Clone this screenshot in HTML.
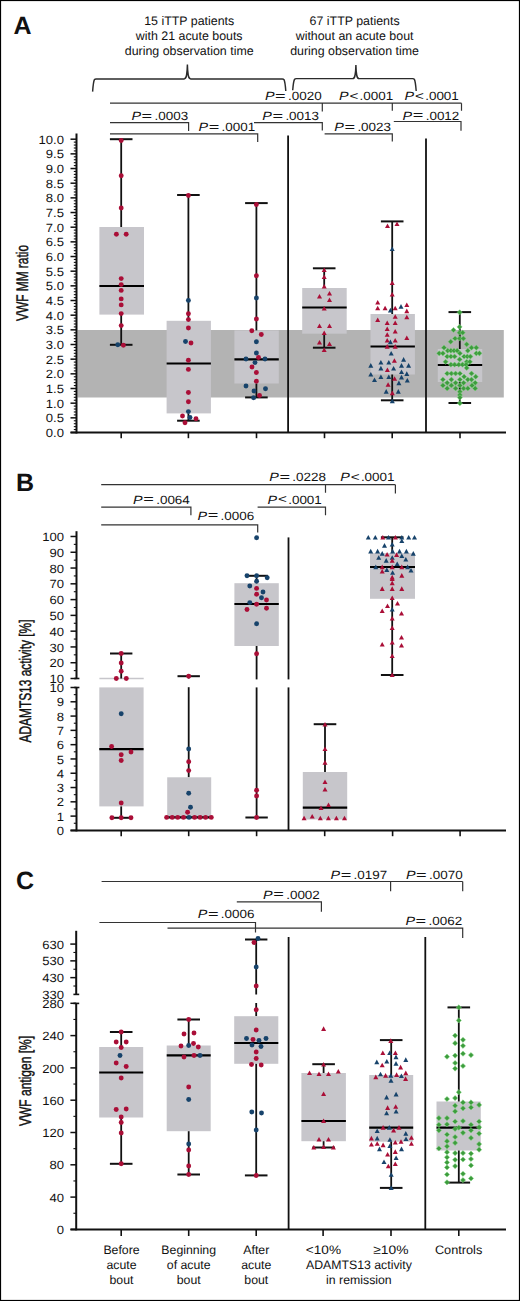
<!DOCTYPE html><html><head><meta charset="utf-8"><title>Figure</title><style>html,body{margin:0;padding:0;background:#fff}svg{display:block}text{font-family:"Liberation Sans",sans-serif;fill:#111;text-rendering:geometricPrecision}</style></head><body>
<svg width="520" height="1301" viewBox="0 0 520 1301">
<rect x="0" y="0" width="520" height="1301" fill="#fff"/>
<rect x="0.5" y="0.5" width="519" height="1300" fill="none" stroke="#000" stroke-width="1.2"/>
<text x="13.6" y="33.7" font-size="25" font-weight="bold">A</text>
<text x="15.9" y="490.5" font-size="25" font-weight="bold">B</text>
<text x="15.9" y="888.7" font-size="25" font-weight="bold">C</text>
<text x="189.2" y="24.6" font-size="12.4" text-anchor="middle" >15 iTTP patients</text>
<text x="189.2" y="39.6" font-size="12.4" text-anchor="middle" >with 21 acute bouts</text>
<text x="189.2" y="54.6" font-size="12.4" text-anchor="middle" >during observation time</text>
<text x="354.6" y="24.6" font-size="12.4" text-anchor="middle" >67 iTTP patients</text>
<text x="354.6" y="39.6" font-size="12.4" text-anchor="middle" >without an acute bout</text>
<text x="354.6" y="54.6" font-size="12.4" text-anchor="middle" >during observation time</text>
<path d="M92.6,91.6 C93.0,86.6 93.5,81.4 94.39999999999999,79.7 Q94.89999999999999,78.9 96.19999999999999,78.9 L184.1,78.9 C186.20000000000002,78.9 187.1,76.4 187.4,64.6 C187.70000000000002,76.4 188.6,78.9 190.70000000000002,78.9 L282.2,78.9 Q283.5,78.9 284.0,79.7 C284.90000000000003,81.4 285.40000000000003,86.0 285.8,91.0" fill="none" stroke="#2b2b2b" stroke-width="1.45"/>
<path d="M292.7,90.3 C293.09999999999997,85.3 293.59999999999997,81.1 294.5,79.39999999999999 Q295.0,78.6 296.3,78.6 L352.59999999999997,78.6 C354.7,78.6 355.59999999999997,76.1 355.9,64.9 C356.2,76.1 357.09999999999997,78.6 359.2,78.6 L412.59999999999997,78.6 Q413.9,78.6 414.4,79.39999999999999 C415.3,81.1 415.8,86.0 416.2,91.0" fill="none" stroke="#2b2b2b" stroke-width="1.45"/>
<path d="M110,103.2 H461.5 M322.3,103.2 V111.5 M392.3,103.2 V110.8 M461.5,103.2 V110.8" fill="none" stroke="#333" stroke-width="1.2"/>
<path d="M110,122.7 H188.6 V131" fill="none" stroke="#333" stroke-width="1.2"/>
<path d="M110,133.9 H257.7 V142" fill="none" stroke="#333" stroke-width="1.2"/>
<path d="M254,122.7 H322.3 V130.4" fill="none" stroke="#333" stroke-width="1.2"/>
<path d="M324.6,133.9 H392.3 V141.5" fill="none" stroke="#333" stroke-width="1.2"/>
<path d="M393.8,121.5 H461 V130.8" fill="none" stroke="#333" stroke-width="1.2"/>
<text x="264.90" y="100.0" font-size="12.0" font-style="italic" textLength="9.6" lengthAdjust="spacingAndGlyphs">P</text>
<text x="275.10" y="99.7" font-size="12.0" textLength="10.6" lengthAdjust="spacingAndGlyphs">=</text>
<text x="288.00" y="100.0" font-size="12.0" textLength="33.6" lengthAdjust="spacingAndGlyphs">.0020</text>
<text x="339.00" y="100.0" font-size="12.0" font-style="italic" textLength="9.6" lengthAdjust="spacingAndGlyphs">P</text>
<text x="349.50" y="99.7" font-size="12.0" textLength="8.9" lengthAdjust="spacingAndGlyphs">&lt;</text>
<text x="359.60" y="100.0" font-size="12.0" textLength="33.6" lengthAdjust="spacingAndGlyphs">.0001</text>
<text x="404.60" y="100.0" font-size="12.0" font-style="italic" textLength="9.6" lengthAdjust="spacingAndGlyphs">P</text>
<text x="415.10" y="99.7" font-size="12.0" textLength="8.9" lengthAdjust="spacingAndGlyphs">&lt;</text>
<text x="425.20" y="100.0" font-size="12.0" textLength="33.6" lengthAdjust="spacingAndGlyphs">.0001</text>
<text x="131.40" y="119.8" font-size="12.0" font-style="italic" textLength="9.6" lengthAdjust="spacingAndGlyphs">P</text>
<text x="141.60" y="119.5" font-size="12.0" textLength="10.6" lengthAdjust="spacingAndGlyphs">=</text>
<text x="154.50" y="119.8" font-size="12.0" textLength="33.6" lengthAdjust="spacingAndGlyphs">.0003</text>
<text x="198.50" y="131.1" font-size="12.0" font-style="italic" textLength="9.6" lengthAdjust="spacingAndGlyphs">P</text>
<text x="208.70" y="130.79999999999998" font-size="12.0" textLength="10.6" lengthAdjust="spacingAndGlyphs">=</text>
<text x="221.60" y="131.1" font-size="12.0" textLength="33.6" lengthAdjust="spacingAndGlyphs">.0001</text>
<text x="262.30" y="120.1" font-size="12.0" font-style="italic" textLength="9.6" lengthAdjust="spacingAndGlyphs">P</text>
<text x="272.50" y="119.8" font-size="12.0" textLength="10.6" lengthAdjust="spacingAndGlyphs">=</text>
<text x="285.40" y="120.1" font-size="12.0" textLength="33.6" lengthAdjust="spacingAndGlyphs">.0013</text>
<text x="334.30" y="131.1" font-size="12.0" font-style="italic" textLength="9.6" lengthAdjust="spacingAndGlyphs">P</text>
<text x="344.50" y="130.79999999999998" font-size="12.0" textLength="10.6" lengthAdjust="spacingAndGlyphs">=</text>
<text x="357.40" y="131.1" font-size="12.0" textLength="33.6" lengthAdjust="spacingAndGlyphs">.0023</text>
<text x="402.60" y="119.6" font-size="12.0" font-style="italic" textLength="9.6" lengthAdjust="spacingAndGlyphs">P</text>
<text x="412.80" y="119.3" font-size="12.0" textLength="10.6" lengthAdjust="spacingAndGlyphs">=</text>
<text x="425.70" y="119.6" font-size="12.0" textLength="33.6" lengthAdjust="spacingAndGlyphs">.0012</text>
<rect x="77.5" y="330" width="426.30" height="67.50" fill="#b3b3b3"/>
<rect x="99.4" y="227.0" width="44.60" height="87.60" fill="#c7c6cb"/>
<line x1="121.2" y1="139.2" x2="121.2" y2="227.0" stroke="#111" stroke-width="1.8"/>
<line x1="109.9" y1="139.2" x2="132.5" y2="139.2" stroke="#111" stroke-width="2"/>
<line x1="121.2" y1="314.6" x2="121.2" y2="344.8" stroke="#111" stroke-width="1.8"/>
<line x1="109.9" y1="344.8" x2="132.5" y2="344.8" stroke="#111" stroke-width="2"/>
<line x1="99.4" y1="286.0" x2="144.0" y2="286.0" stroke="#000" stroke-width="2.2"/>
<rect x="166.6" y="320.8" width="44.30" height="92.60" fill="#c7c6cb"/>
<line x1="188.4" y1="195.0" x2="188.4" y2="320.8" stroke="#111" stroke-width="1.8"/>
<line x1="177.1" y1="195.0" x2="199.70000000000002" y2="195.0" stroke="#111" stroke-width="2"/>
<line x1="188.4" y1="413.4" x2="188.4" y2="420.7" stroke="#111" stroke-width="1.8"/>
<line x1="177.1" y1="420.7" x2="199.70000000000002" y2="420.7" stroke="#111" stroke-width="2"/>
<line x1="166.6" y1="363.5" x2="210.9" y2="363.5" stroke="#000" stroke-width="2.2"/>
<rect x="234.4" y="330.4" width="44.40" height="53.10" fill="#c7c6cb"/>
<line x1="256.4" y1="203.1" x2="256.4" y2="330.4" stroke="#111" stroke-width="1.8"/>
<line x1="245.09999999999997" y1="203.1" x2="267.7" y2="203.1" stroke="#111" stroke-width="2"/>
<line x1="256.4" y1="383.5" x2="256.4" y2="397.4" stroke="#111" stroke-width="1.8"/>
<line x1="245.09999999999997" y1="397.4" x2="267.7" y2="397.4" stroke="#111" stroke-width="2"/>
<line x1="234.4" y1="359.3" x2="278.8" y2="359.3" stroke="#000" stroke-width="2.2"/>
<rect x="302.2" y="288.0" width="44.50" height="45.70" fill="#c7c6cb"/>
<line x1="324.2" y1="268.3" x2="324.2" y2="288.0" stroke="#111" stroke-width="1.8"/>
<line x1="312.9" y1="268.3" x2="335.5" y2="268.3" stroke="#111" stroke-width="2"/>
<line x1="324.2" y1="333.7" x2="324.2" y2="347.7" stroke="#111" stroke-width="1.8"/>
<line x1="312.9" y1="347.7" x2="335.5" y2="347.7" stroke="#111" stroke-width="2"/>
<line x1="302.2" y1="307.5" x2="346.7" y2="307.5" stroke="#000" stroke-width="2.2"/>
<rect x="370.5" y="314.0" width="44.40" height="60.50" fill="#c7c6cb"/>
<line x1="392.2" y1="221.4" x2="392.2" y2="314.0" stroke="#111" stroke-width="1.8"/>
<line x1="380.9" y1="221.4" x2="403.5" y2="221.4" stroke="#111" stroke-width="2"/>
<line x1="392.2" y1="374.5" x2="392.2" y2="400.3" stroke="#111" stroke-width="1.8"/>
<line x1="380.9" y1="400.3" x2="403.5" y2="400.3" stroke="#111" stroke-width="2"/>
<line x1="370.5" y1="346.5" x2="414.9" y2="346.5" stroke="#000" stroke-width="2.2"/>
<rect x="437.8" y="349.0" width="44.40" height="33.00" fill="#c7c6cb"/>
<line x1="459.8" y1="312.1" x2="459.8" y2="349.0" stroke="#111" stroke-width="1.8"/>
<line x1="448.5" y1="312.1" x2="471.1" y2="312.1" stroke="#111" stroke-width="2"/>
<line x1="459.8" y1="382.0" x2="459.8" y2="403.0" stroke="#111" stroke-width="1.8"/>
<line x1="448.5" y1="403.0" x2="471.1" y2="403.0" stroke="#111" stroke-width="2"/>
<line x1="437.8" y1="365.0" x2="482.2" y2="365.0" stroke="#000" stroke-width="2.2"/>
<line x1="76.5" y1="133.4" x2="76.5" y2="433.5" stroke="#111" stroke-width="2"/>
<line x1="70.5" y1="432.5" x2="506" y2="432.5" stroke="#111" stroke-width="2"/>
<line x1="70.5" y1="432.5" x2="76.5" y2="432.5" stroke="#111" stroke-width="1.5"/>
<line x1="73.8" y1="429.567" x2="76.5" y2="429.567" stroke="#111" stroke-width="1.1"/>
<line x1="73.8" y1="426.634" x2="76.5" y2="426.634" stroke="#111" stroke-width="1.1"/>
<line x1="73.8" y1="423.701" x2="76.5" y2="423.701" stroke="#111" stroke-width="1.1"/>
<line x1="73.8" y1="420.76800000000003" x2="76.5" y2="420.76800000000003" stroke="#111" stroke-width="1.1"/>
<line x1="70.5" y1="417.835" x2="76.5" y2="417.835" stroke="#111" stroke-width="1.5"/>
<line x1="73.8" y1="414.902" x2="76.5" y2="414.902" stroke="#111" stroke-width="1.1"/>
<line x1="73.8" y1="411.969" x2="76.5" y2="411.969" stroke="#111" stroke-width="1.1"/>
<line x1="73.8" y1="409.036" x2="76.5" y2="409.036" stroke="#111" stroke-width="1.1"/>
<line x1="73.8" y1="406.103" x2="76.5" y2="406.103" stroke="#111" stroke-width="1.1"/>
<line x1="70.5" y1="403.17" x2="76.5" y2="403.17" stroke="#111" stroke-width="1.5"/>
<line x1="73.8" y1="400.237" x2="76.5" y2="400.237" stroke="#111" stroke-width="1.1"/>
<line x1="73.8" y1="397.304" x2="76.5" y2="397.304" stroke="#111" stroke-width="1.1"/>
<line x1="73.8" y1="394.371" x2="76.5" y2="394.371" stroke="#111" stroke-width="1.1"/>
<line x1="73.8" y1="391.438" x2="76.5" y2="391.438" stroke="#111" stroke-width="1.1"/>
<line x1="70.5" y1="388.505" x2="76.5" y2="388.505" stroke="#111" stroke-width="1.5"/>
<line x1="73.8" y1="385.572" x2="76.5" y2="385.572" stroke="#111" stroke-width="1.1"/>
<line x1="73.8" y1="382.639" x2="76.5" y2="382.639" stroke="#111" stroke-width="1.1"/>
<line x1="73.8" y1="379.706" x2="76.5" y2="379.706" stroke="#111" stroke-width="1.1"/>
<line x1="73.8" y1="376.773" x2="76.5" y2="376.773" stroke="#111" stroke-width="1.1"/>
<line x1="70.5" y1="373.84000000000003" x2="76.5" y2="373.84000000000003" stroke="#111" stroke-width="1.5"/>
<line x1="73.8" y1="370.907" x2="76.5" y2="370.907" stroke="#111" stroke-width="1.1"/>
<line x1="73.8" y1="367.974" x2="76.5" y2="367.974" stroke="#111" stroke-width="1.1"/>
<line x1="73.8" y1="365.041" x2="76.5" y2="365.041" stroke="#111" stroke-width="1.1"/>
<line x1="73.8" y1="362.108" x2="76.5" y2="362.108" stroke="#111" stroke-width="1.1"/>
<line x1="70.5" y1="359.175" x2="76.5" y2="359.175" stroke="#111" stroke-width="1.5"/>
<line x1="73.8" y1="356.242" x2="76.5" y2="356.242" stroke="#111" stroke-width="1.1"/>
<line x1="73.8" y1="353.30899999999997" x2="76.5" y2="353.30899999999997" stroke="#111" stroke-width="1.1"/>
<line x1="73.8" y1="350.376" x2="76.5" y2="350.376" stroke="#111" stroke-width="1.1"/>
<line x1="73.8" y1="347.443" x2="76.5" y2="347.443" stroke="#111" stroke-width="1.1"/>
<line x1="70.5" y1="344.51" x2="76.5" y2="344.51" stroke="#111" stroke-width="1.5"/>
<line x1="73.8" y1="341.577" x2="76.5" y2="341.577" stroke="#111" stroke-width="1.1"/>
<line x1="73.8" y1="338.644" x2="76.5" y2="338.644" stroke="#111" stroke-width="1.1"/>
<line x1="73.8" y1="335.711" x2="76.5" y2="335.711" stroke="#111" stroke-width="1.1"/>
<line x1="73.8" y1="332.778" x2="76.5" y2="332.778" stroke="#111" stroke-width="1.1"/>
<line x1="70.5" y1="329.845" x2="76.5" y2="329.845" stroke="#111" stroke-width="1.5"/>
<line x1="73.8" y1="326.91200000000003" x2="76.5" y2="326.91200000000003" stroke="#111" stroke-width="1.1"/>
<line x1="73.8" y1="323.979" x2="76.5" y2="323.979" stroke="#111" stroke-width="1.1"/>
<line x1="73.8" y1="321.046" x2="76.5" y2="321.046" stroke="#111" stroke-width="1.1"/>
<line x1="73.8" y1="318.113" x2="76.5" y2="318.113" stroke="#111" stroke-width="1.1"/>
<line x1="70.5" y1="315.18" x2="76.5" y2="315.18" stroke="#111" stroke-width="1.5"/>
<line x1="73.8" y1="312.247" x2="76.5" y2="312.247" stroke="#111" stroke-width="1.1"/>
<line x1="73.8" y1="309.314" x2="76.5" y2="309.314" stroke="#111" stroke-width="1.1"/>
<line x1="73.8" y1="306.38100000000003" x2="76.5" y2="306.38100000000003" stroke="#111" stroke-width="1.1"/>
<line x1="73.8" y1="303.448" x2="76.5" y2="303.448" stroke="#111" stroke-width="1.1"/>
<line x1="70.5" y1="300.515" x2="76.5" y2="300.515" stroke="#111" stroke-width="1.5"/>
<line x1="73.8" y1="297.582" x2="76.5" y2="297.582" stroke="#111" stroke-width="1.1"/>
<line x1="73.8" y1="294.649" x2="76.5" y2="294.649" stroke="#111" stroke-width="1.1"/>
<line x1="73.8" y1="291.716" x2="76.5" y2="291.716" stroke="#111" stroke-width="1.1"/>
<line x1="73.8" y1="288.783" x2="76.5" y2="288.783" stroke="#111" stroke-width="1.1"/>
<line x1="70.5" y1="285.85" x2="76.5" y2="285.85" stroke="#111" stroke-width="1.5"/>
<line x1="73.8" y1="282.91700000000003" x2="76.5" y2="282.91700000000003" stroke="#111" stroke-width="1.1"/>
<line x1="73.8" y1="279.98400000000004" x2="76.5" y2="279.98400000000004" stroke="#111" stroke-width="1.1"/>
<line x1="73.8" y1="277.05100000000004" x2="76.5" y2="277.05100000000004" stroke="#111" stroke-width="1.1"/>
<line x1="73.8" y1="274.118" x2="76.5" y2="274.118" stroke="#111" stroke-width="1.1"/>
<line x1="70.5" y1="271.185" x2="76.5" y2="271.185" stroke="#111" stroke-width="1.5"/>
<line x1="73.8" y1="268.252" x2="76.5" y2="268.252" stroke="#111" stroke-width="1.1"/>
<line x1="73.8" y1="265.319" x2="76.5" y2="265.319" stroke="#111" stroke-width="1.1"/>
<line x1="73.8" y1="262.386" x2="76.5" y2="262.386" stroke="#111" stroke-width="1.1"/>
<line x1="73.8" y1="259.453" x2="76.5" y2="259.453" stroke="#111" stroke-width="1.1"/>
<line x1="70.5" y1="256.52" x2="76.5" y2="256.52" stroke="#111" stroke-width="1.5"/>
<line x1="73.8" y1="253.58700000000002" x2="76.5" y2="253.58700000000002" stroke="#111" stroke-width="1.1"/>
<line x1="73.8" y1="250.654" x2="76.5" y2="250.654" stroke="#111" stroke-width="1.1"/>
<line x1="73.8" y1="247.721" x2="76.5" y2="247.721" stroke="#111" stroke-width="1.1"/>
<line x1="73.8" y1="244.788" x2="76.5" y2="244.788" stroke="#111" stroke-width="1.1"/>
<line x1="70.5" y1="241.85500000000002" x2="76.5" y2="241.85500000000002" stroke="#111" stroke-width="1.5"/>
<line x1="73.8" y1="238.92200000000003" x2="76.5" y2="238.92200000000003" stroke="#111" stroke-width="1.1"/>
<line x1="73.8" y1="235.989" x2="76.5" y2="235.989" stroke="#111" stroke-width="1.1"/>
<line x1="73.8" y1="233.056" x2="76.5" y2="233.056" stroke="#111" stroke-width="1.1"/>
<line x1="73.8" y1="230.123" x2="76.5" y2="230.123" stroke="#111" stroke-width="1.1"/>
<line x1="70.5" y1="227.19" x2="76.5" y2="227.19" stroke="#111" stroke-width="1.5"/>
<line x1="73.8" y1="224.25700000000003" x2="76.5" y2="224.25700000000003" stroke="#111" stroke-width="1.1"/>
<line x1="73.8" y1="221.324" x2="76.5" y2="221.324" stroke="#111" stroke-width="1.1"/>
<line x1="73.8" y1="218.39100000000002" x2="76.5" y2="218.39100000000002" stroke="#111" stroke-width="1.1"/>
<line x1="73.8" y1="215.458" x2="76.5" y2="215.458" stroke="#111" stroke-width="1.1"/>
<line x1="70.5" y1="212.525" x2="76.5" y2="212.525" stroke="#111" stroke-width="1.5"/>
<line x1="73.8" y1="209.592" x2="76.5" y2="209.592" stroke="#111" stroke-width="1.1"/>
<line x1="73.8" y1="206.65900000000002" x2="76.5" y2="206.65900000000002" stroke="#111" stroke-width="1.1"/>
<line x1="73.8" y1="203.72600000000003" x2="76.5" y2="203.72600000000003" stroke="#111" stroke-width="1.1"/>
<line x1="73.8" y1="200.793" x2="76.5" y2="200.793" stroke="#111" stroke-width="1.1"/>
<line x1="70.5" y1="197.86" x2="76.5" y2="197.86" stroke="#111" stroke-width="1.5"/>
<line x1="73.8" y1="194.92700000000002" x2="76.5" y2="194.92700000000002" stroke="#111" stroke-width="1.1"/>
<line x1="73.8" y1="191.99400000000003" x2="76.5" y2="191.99400000000003" stroke="#111" stroke-width="1.1"/>
<line x1="73.8" y1="189.061" x2="76.5" y2="189.061" stroke="#111" stroke-width="1.1"/>
<line x1="73.8" y1="186.12800000000001" x2="76.5" y2="186.12800000000001" stroke="#111" stroke-width="1.1"/>
<line x1="70.5" y1="183.19500000000002" x2="76.5" y2="183.19500000000002" stroke="#111" stroke-width="1.5"/>
<line x1="73.8" y1="180.26200000000003" x2="76.5" y2="180.26200000000003" stroke="#111" stroke-width="1.1"/>
<line x1="73.8" y1="177.32900000000004" x2="76.5" y2="177.32900000000004" stroke="#111" stroke-width="1.1"/>
<line x1="73.8" y1="174.39600000000002" x2="76.5" y2="174.39600000000002" stroke="#111" stroke-width="1.1"/>
<line x1="73.8" y1="171.46300000000002" x2="76.5" y2="171.46300000000002" stroke="#111" stroke-width="1.1"/>
<line x1="70.5" y1="168.53000000000003" x2="76.5" y2="168.53000000000003" stroke="#111" stroke-width="1.5"/>
<line x1="73.8" y1="165.59700000000004" x2="76.5" y2="165.59700000000004" stroke="#111" stroke-width="1.1"/>
<line x1="73.8" y1="162.66400000000004" x2="76.5" y2="162.66400000000004" stroke="#111" stroke-width="1.1"/>
<line x1="73.8" y1="159.731" x2="76.5" y2="159.731" stroke="#111" stroke-width="1.1"/>
<line x1="73.8" y1="156.798" x2="76.5" y2="156.798" stroke="#111" stroke-width="1.1"/>
<line x1="70.5" y1="153.865" x2="76.5" y2="153.865" stroke="#111" stroke-width="1.5"/>
<line x1="73.8" y1="150.93200000000002" x2="76.5" y2="150.93200000000002" stroke="#111" stroke-width="1.1"/>
<line x1="73.8" y1="147.99900000000002" x2="76.5" y2="147.99900000000002" stroke="#111" stroke-width="1.1"/>
<line x1="73.8" y1="145.06599999999997" x2="76.5" y2="145.06599999999997" stroke="#111" stroke-width="1.1"/>
<line x1="73.8" y1="142.13299999999998" x2="76.5" y2="142.13299999999998" stroke="#111" stroke-width="1.1"/>
<line x1="70.5" y1="139.20000000000005" x2="76.5" y2="139.20000000000005" stroke="#111" stroke-width="1.5"/>
<text transform="translate(64.0,437.10) scale(1.09,1)" font-size="12.0" text-anchor="end">0.0</text>
<text transform="translate(64.0,422.44) scale(1.09,1)" font-size="12.0" text-anchor="end">0.5</text>
<text transform="translate(64.0,407.77) scale(1.09,1)" font-size="12.0" text-anchor="end">1.0</text>
<text transform="translate(64.0,393.11) scale(1.09,1)" font-size="12.0" text-anchor="end">1.5</text>
<text transform="translate(64.0,378.44) scale(1.09,1)" font-size="12.0" text-anchor="end">2.0</text>
<text transform="translate(64.0,363.78) scale(1.09,1)" font-size="12.0" text-anchor="end">2.5</text>
<text transform="translate(64.0,349.11) scale(1.09,1)" font-size="12.0" text-anchor="end">3.0</text>
<text transform="translate(64.0,334.45) scale(1.09,1)" font-size="12.0" text-anchor="end">3.5</text>
<text transform="translate(64.0,319.78) scale(1.09,1)" font-size="12.0" text-anchor="end">4.0</text>
<text transform="translate(64.0,305.12) scale(1.09,1)" font-size="12.0" text-anchor="end">4.5</text>
<text transform="translate(64.0,290.45) scale(1.09,1)" font-size="12.0" text-anchor="end">5.0</text>
<text transform="translate(64.0,275.79) scale(1.09,1)" font-size="12.0" text-anchor="end">5.5</text>
<text transform="translate(64.0,261.12) scale(1.09,1)" font-size="12.0" text-anchor="end">6.0</text>
<text transform="translate(64.0,246.46) scale(1.09,1)" font-size="12.0" text-anchor="end">6.5</text>
<text transform="translate(64.0,231.79) scale(1.09,1)" font-size="12.0" text-anchor="end">7.0</text>
<text transform="translate(64.0,217.12) scale(1.09,1)" font-size="12.0" text-anchor="end">7.5</text>
<text transform="translate(64.0,202.46) scale(1.09,1)" font-size="12.0" text-anchor="end">8.0</text>
<text transform="translate(64.0,187.80) scale(1.09,1)" font-size="12.0" text-anchor="end">8.5</text>
<text transform="translate(64.0,173.13) scale(1.09,1)" font-size="12.0" text-anchor="end">9.0</text>
<text transform="translate(64.0,158.47) scale(1.09,1)" font-size="12.0" text-anchor="end">9.5</text>
<text transform="translate(64.0,143.80) scale(1.09,1)" font-size="12.0" text-anchor="end">10.0</text>
<line x1="121.2" y1="432.5" x2="121.2" y2="438.2" stroke="#111" stroke-width="1.6"/>
<line x1="188.4" y1="432.5" x2="188.4" y2="438.2" stroke="#111" stroke-width="1.6"/>
<line x1="256.5" y1="432.5" x2="256.5" y2="438.2" stroke="#111" stroke-width="1.6"/>
<line x1="324.5" y1="432.5" x2="324.5" y2="438.2" stroke="#111" stroke-width="1.6"/>
<line x1="392.2" y1="432.5" x2="392.2" y2="438.2" stroke="#111" stroke-width="1.6"/>
<line x1="460.0" y1="432.5" x2="460.0" y2="438.2" stroke="#111" stroke-width="1.6"/>
<line x1="288.1" y1="135.5" x2="288.1" y2="432.5" stroke="#111" stroke-width="1.8"/>
<line x1="426.0" y1="138.5" x2="426.0" y2="432.5" stroke="#111" stroke-width="1.8"/>
<text transform="translate(27.9,283.0) rotate(-90)" x="-38.00" y="0" font-size="16.8" stroke="#111" stroke-width="0.45" textLength="76.0" lengthAdjust="spacingAndGlyphs">VWF MM ratio</text>
<circle cx="121.2" cy="140.5" r="2.45" fill="#aa0e37"/>
<circle cx="121.2" cy="175.8" r="2.45" fill="#aa0e37"/>
<circle cx="121.2" cy="208" r="2.45" fill="#aa0e37"/>
<circle cx="116.4" cy="234.3" r="2.45" fill="#aa0e37"/>
<circle cx="126.2" cy="234.3" r="2.45" fill="#aa0e37"/>
<circle cx="121.2" cy="278.6" r="2.45" fill="#aa0e37"/>
<circle cx="121.2" cy="284.6" r="2.45" fill="#aa0e37"/>
<circle cx="121.2" cy="290.4" r="2.45" fill="#aa0e37"/>
<circle cx="121.2" cy="298.9" r="2.45" fill="#aa0e37"/>
<circle cx="121.2" cy="304.9" r="2.45" fill="#aa0e37"/>
<circle cx="121.2" cy="313.6" r="2.45" fill="#aa0e37"/>
<circle cx="121.2" cy="325.6" r="2.45" fill="#aa0e37"/>
<circle cx="123.4" cy="345.3" r="2.45" fill="#aa0e37"/>
<circle cx="117.8" cy="344.8" r="2.45" fill="#17436b"/>
<circle cx="188.4" cy="195.5" r="2.45" fill="#aa0e37"/>
<circle cx="188.4" cy="300.4" r="2.45" fill="#17436b"/>
<circle cx="188.4" cy="313.8" r="2.45" fill="#aa0e37"/>
<circle cx="188.4" cy="319.6" r="2.45" fill="#aa0e37"/>
<circle cx="188.4" cy="328" r="2.45" fill="#aa0e37"/>
<circle cx="185.5" cy="341.5" r="2.45" fill="#17436b"/>
<circle cx="191" cy="343" r="2.45" fill="#aa0e37"/>
<circle cx="188.4" cy="360.2" r="2.45" fill="#aa0e37"/>
<circle cx="188.4" cy="369.4" r="2.45" fill="#aa0e37"/>
<circle cx="188.4" cy="392.5" r="2.45" fill="#aa0e37"/>
<circle cx="188.4" cy="401.8" r="2.45" fill="#aa0e37"/>
<circle cx="188.4" cy="411.6" r="2.45" fill="#17436b"/>
<circle cx="182.5" cy="416" r="2.45" fill="#aa0e37"/>
<circle cx="190" cy="417.5" r="2.45" fill="#17436b"/>
<circle cx="196" cy="418.7" r="2.45" fill="#aa0e37"/>
<circle cx="185" cy="422.8" r="2.45" fill="#aa0e37"/>
<circle cx="256.4" cy="204.5" r="2.45" fill="#aa0e37"/>
<circle cx="256.4" cy="275.8" r="2.45" fill="#aa0e37"/>
<circle cx="256.4" cy="298" r="2.45" fill="#17436b"/>
<circle cx="256.4" cy="319" r="2.45" fill="#aa0e37"/>
<circle cx="251.8" cy="330.8" r="2.45" fill="#aa0e37"/>
<circle cx="261.3" cy="334.5" r="2.45" fill="#aa0e37"/>
<circle cx="256.4" cy="341.8" r="2.45" fill="#17436b"/>
<circle cx="256.4" cy="353" r="2.45" fill="#17436b"/>
<circle cx="246" cy="359" r="2.45" fill="#17436b"/>
<circle cx="258.5" cy="357.5" r="2.45" fill="#aa0e37"/>
<circle cx="265" cy="359" r="2.45" fill="#17436b"/>
<circle cx="255" cy="362.6" r="2.45" fill="#17436b"/>
<circle cx="252" cy="367" r="2.45" fill="#aa0e37"/>
<circle cx="256.4" cy="372.5" r="2.45" fill="#aa0e37"/>
<circle cx="256.4" cy="381.2" r="2.45" fill="#aa0e37"/>
<circle cx="246" cy="386" r="2.45" fill="#17436b"/>
<circle cx="265.5" cy="388.8" r="2.45" fill="#17436b"/>
<circle cx="254" cy="391" r="2.45" fill="#17436b"/>
<circle cx="259.5" cy="395.5" r="2.45" fill="#aa0e37"/>
<circle cx="253.6" cy="397.7" r="2.45" fill="#17436b"/>
<path d="M324.20,267.50L326.70,272.12L321.70,272.12Z" fill="#aa0e37"/>
<path d="M324.20,274.50L326.70,279.12L321.70,279.12Z" fill="#aa0e37"/>
<path d="M324.20,284.00L326.70,288.62L321.70,288.62Z" fill="#aa0e37"/>
<path d="M319.50,294.00L322.00,298.62L317.00,298.62Z" fill="#aa0e37"/>
<path d="M329.50,291.00L332.00,295.62L327.00,295.62Z" fill="#aa0e37"/>
<path d="M329.50,297.50L332.00,302.12L327.00,302.12Z" fill="#aa0e37"/>
<path d="M324.20,306.00L326.70,310.62L321.70,310.62Z" fill="#aa0e37"/>
<path d="M319.50,323.50L322.00,328.12L317.00,328.12Z" fill="#aa0e37"/>
<path d="M329.50,323.50L332.00,328.12L327.00,328.12Z" fill="#aa0e37"/>
<path d="M324.20,330.50L326.70,335.12L321.70,335.12Z" fill="#aa0e37"/>
<path d="M319.50,340.00L322.00,344.62L317.00,344.62Z" fill="#aa0e37"/>
<path d="M329.50,341.50L332.00,346.12L327.00,346.12Z" fill="#aa0e37"/>
<path d="M324.20,347.50L326.70,352.12L321.70,352.12Z" fill="#aa0e37"/>
<path d="M387.50,223.50L390.00,228.12L385.00,228.12Z" fill="#aa0e37"/>
<path d="M397.00,221.50L399.50,226.12L394.50,226.12Z" fill="#aa0e37"/>
<path d="M392.20,246.50L394.70,251.12L389.70,251.12Z" fill="#17436b"/>
<path d="M392.20,280.50L394.70,285.12L389.70,285.12Z" fill="#aa0e37"/>
<path d="M392.20,292.00L394.70,296.62L389.70,296.62Z" fill="#aa0e37"/>
<path d="M377.70,299.90L380.20,304.52L375.20,304.52Z" fill="#aa0e37"/>
<path d="M377.70,305.70L380.20,310.32L375.20,310.32Z" fill="#aa0e37"/>
<path d="M385.10,305.70L387.60,310.32L382.60,310.32Z" fill="#aa0e37"/>
<path d="M390.40,307.80L392.90,312.43L387.90,312.43Z" fill="#17436b"/>
<path d="M395.20,305.70L397.70,310.32L392.70,310.32Z" fill="#aa0e37"/>
<path d="M401.00,304.10L403.50,308.73L398.50,308.73Z" fill="#17436b"/>
<path d="M406.80,302.50L409.30,307.12L404.30,307.12Z" fill="#aa0e37"/>
<path d="M406.80,308.60L409.30,313.23L404.30,313.23Z" fill="#aa0e37"/>
<path d="M406.80,314.70L409.30,319.32L404.30,319.32Z" fill="#aa0e37"/>
<path d="M395.20,314.20L397.70,318.82L392.70,318.82Z" fill="#aa0e37"/>
<path d="M377.70,317.40L380.20,322.02L375.20,322.02Z" fill="#aa0e37"/>
<path d="M387.20,320.50L389.70,325.12L384.70,325.12Z" fill="#aa0e37"/>
<path d="M395.20,320.50L397.70,325.12L392.70,325.12Z" fill="#aa0e37"/>
<path d="M387.20,326.40L389.70,331.02L384.70,331.02Z" fill="#aa0e37"/>
<path d="M395.20,329.00L397.70,333.62L392.70,333.62Z" fill="#aa0e37"/>
<path d="M387.20,332.20L389.70,336.82L384.70,336.82Z" fill="#aa0e37"/>
<path d="M406.80,335.40L409.30,340.02L404.30,340.02Z" fill="#aa0e37"/>
<path d="M387.20,338.00L389.70,342.62L384.70,342.62Z" fill="#aa0e37"/>
<path d="M390.40,339.60L392.90,344.23L387.90,344.23Z" fill="#17436b"/>
<path d="M395.20,338.00L397.70,342.62L392.70,342.62Z" fill="#aa0e37"/>
<path d="M387.20,344.10L389.70,348.73L384.70,348.73Z" fill="#aa0e37"/>
<path d="M395.20,344.10L397.70,348.73L392.70,348.73Z" fill="#aa0e37"/>
<path d="M391.20,351.00L393.70,355.62L388.70,355.62Z" fill="#17436b"/>
<path d="M394.40,358.20L396.90,362.82L391.90,362.82Z" fill="#aa0e37"/>
<path d="M403.60,357.10L406.10,361.73L401.10,361.73Z" fill="#17436b"/>
<path d="M380.90,360.00L383.40,364.62L378.40,364.62Z" fill="#17436b"/>
<path d="M388.80,360.00L391.30,364.62L386.30,364.62Z" fill="#17436b"/>
<path d="M370.80,363.10L373.30,367.73L368.30,367.73Z" fill="#17436b"/>
<path d="M401.50,363.10L404.00,367.73L399.00,367.73Z" fill="#17436b"/>
<path d="M408.60,363.10L411.10,367.73L406.10,367.73Z" fill="#17436b"/>
<path d="M380.90,365.80L383.40,370.43L378.40,370.43Z" fill="#17436b"/>
<path d="M387.40,367.40L389.90,372.02L384.90,372.02Z" fill="#aa0e37"/>
<path d="M393.60,366.00L396.10,370.62L391.10,370.62Z" fill="#17436b"/>
<path d="M370.80,371.90L373.30,376.52L368.30,376.52Z" fill="#17436b"/>
<path d="M401.50,369.50L404.00,374.12L399.00,374.12Z" fill="#17436b"/>
<path d="M406.80,371.30L409.30,375.93L404.30,375.93Z" fill="#17436b"/>
<path d="M380.90,374.50L383.40,379.12L378.40,379.12Z" fill="#17436b"/>
<path d="M388.80,374.50L391.30,379.12L386.30,379.12Z" fill="#17436b"/>
<path d="M394.60,376.20L397.10,380.82L392.10,380.82Z" fill="#aa0e37"/>
<path d="M401.50,374.80L404.00,379.43L399.00,379.43Z" fill="#17436b"/>
<path d="M374.50,377.40L377.00,382.02L372.00,382.02Z" fill="#17436b"/>
<path d="M407.30,377.90L409.80,382.52L404.80,382.52Z" fill="#17436b"/>
<path d="M388.10,382.20L390.60,386.82L385.60,386.82Z" fill="#aa0e37"/>
<path d="M398.90,380.60L401.40,385.23L396.40,385.23Z" fill="#17436b"/>
<path d="M386.20,389.10L388.70,393.73L383.70,393.73Z" fill="#17436b"/>
<path d="M392.30,390.60L394.80,395.23L389.80,395.23Z" fill="#aa0e37"/>
<path d="M398.30,389.10L400.80,393.73L395.80,393.73Z" fill="#17436b"/>
<path d="M392.30,398.60L394.80,403.23L389.80,403.23Z" fill="#17436b"/>
<path d="M459.70,309.70L462.30,312.30L459.70,314.90L457.10,312.30Z" fill="#3d9c3d" stroke="#7fd67f" stroke-width="0.5"/>
<path d="M459.60,324.30L462.20,326.90L459.60,329.50L457.00,326.90Z" fill="#3d9c3d" stroke="#7fd67f" stroke-width="0.5"/>
<path d="M453.50,327.40L456.10,330.00L453.50,332.60L450.90,330.00Z" fill="#3d9c3d" stroke="#7fd67f" stroke-width="0.5"/>
<path d="M459.60,330.10L462.20,332.70L459.60,335.30L457.00,332.70Z" fill="#3d9c3d" stroke="#7fd67f" stroke-width="0.5"/>
<path d="M462.70,330.10L465.30,332.70L462.70,335.30L460.10,332.70Z" fill="#3d9c3d" stroke="#7fd67f" stroke-width="0.5"/>
<path d="M455.10,335.90L457.70,338.50L455.10,341.10L452.50,338.50Z" fill="#3d9c3d" stroke="#7fd67f" stroke-width="0.5"/>
<path d="M459.60,335.90L462.20,338.50L459.60,341.10L457.00,338.50Z" fill="#3d9c3d" stroke="#7fd67f" stroke-width="0.5"/>
<path d="M463.40,335.90L466.00,338.50L463.40,341.10L460.80,338.50Z" fill="#3d9c3d" stroke="#7fd67f" stroke-width="0.5"/>
<path d="M450.70,339.10L453.30,341.70L450.70,344.30L448.10,341.70Z" fill="#3d9c3d" stroke="#7fd67f" stroke-width="0.5"/>
<path d="M466.70,341.70L469.30,344.30L466.70,346.90L464.10,344.30Z" fill="#3d9c3d" stroke="#7fd67f" stroke-width="0.5"/>
<path d="M444.00,345.10L446.60,347.70L444.00,350.30L441.40,347.70Z" fill="#3d9c3d" stroke="#7fd67f" stroke-width="0.5"/>
<path d="M471.50,345.10L474.10,347.70L471.50,350.30L468.90,347.70Z" fill="#3d9c3d" stroke="#7fd67f" stroke-width="0.5"/>
<path d="M476.30,345.10L478.90,347.70L476.30,350.30L473.70,347.70Z" fill="#3d9c3d" stroke="#7fd67f" stroke-width="0.5"/>
<path d="M447.70,348.10L450.30,350.70L447.70,353.30L445.10,350.70Z" fill="#3d9c3d" stroke="#7fd67f" stroke-width="0.5"/>
<path d="M450.90,348.10L453.50,350.70L450.90,353.30L448.30,350.70Z" fill="#3d9c3d" stroke="#7fd67f" stroke-width="0.5"/>
<path d="M454.00,348.10L456.60,350.70L454.00,353.30L451.40,350.70Z" fill="#3d9c3d" stroke="#7fd67f" stroke-width="0.5"/>
<path d="M457.20,348.10L459.80,350.70L457.20,353.30L454.60,350.70Z" fill="#3d9c3d" stroke="#7fd67f" stroke-width="0.5"/>
<path d="M467.80,348.10L470.40,350.70L467.80,353.30L465.20,350.70Z" fill="#3d9c3d" stroke="#7fd67f" stroke-width="0.5"/>
<path d="M439.20,350.70L441.80,353.30L439.20,355.90L436.60,353.30Z" fill="#3d9c3d" stroke="#7fd67f" stroke-width="0.5"/>
<path d="M442.90,350.70L445.50,353.30L442.90,355.90L440.30,353.30Z" fill="#3d9c3d" stroke="#7fd67f" stroke-width="0.5"/>
<path d="M459.90,350.70L462.50,353.30L459.90,355.90L457.30,353.30Z" fill="#3d9c3d" stroke="#7fd67f" stroke-width="0.5"/>
<path d="M476.30,350.70L478.90,353.30L476.30,355.90L473.70,353.30Z" fill="#3d9c3d" stroke="#7fd67f" stroke-width="0.5"/>
<path d="M479.40,350.70L482.00,353.30L479.40,355.90L476.80,353.30Z" fill="#3d9c3d" stroke="#7fd67f" stroke-width="0.5"/>
<path d="M447.20,353.90L449.80,356.50L447.20,359.10L444.60,356.50Z" fill="#3d9c3d" stroke="#7fd67f" stroke-width="0.5"/>
<path d="M450.90,353.90L453.50,356.50L450.90,359.10L448.30,356.50Z" fill="#3d9c3d" stroke="#7fd67f" stroke-width="0.5"/>
<path d="M454.60,353.90L457.20,356.50L454.60,359.10L452.00,356.50Z" fill="#3d9c3d" stroke="#7fd67f" stroke-width="0.5"/>
<path d="M464.10,353.90L466.70,356.50L464.10,359.10L461.50,356.50Z" fill="#3d9c3d" stroke="#7fd67f" stroke-width="0.5"/>
<path d="M467.30,353.90L469.90,356.50L467.30,359.10L464.70,356.50Z" fill="#3d9c3d" stroke="#7fd67f" stroke-width="0.5"/>
<path d="M470.40,353.90L473.00,356.50L470.40,359.10L467.80,356.50Z" fill="#3d9c3d" stroke="#7fd67f" stroke-width="0.5"/>
<path d="M459.60,356.80L462.20,359.40L459.60,362.00L457.00,359.40Z" fill="#3d9c3d" stroke="#7fd67f" stroke-width="0.5"/>
<path d="M445.60,359.20L448.20,361.80L445.60,364.40L443.00,361.80Z" fill="#3d9c3d" stroke="#7fd67f" stroke-width="0.5"/>
<path d="M466.70,359.20L469.30,361.80L466.70,364.40L464.10,361.80Z" fill="#3d9c3d" stroke="#7fd67f" stroke-width="0.5"/>
<path d="M469.90,359.20L472.50,361.80L469.90,364.40L467.30,361.80Z" fill="#3d9c3d" stroke="#7fd67f" stroke-width="0.5"/>
<path d="M450.90,362.00L453.50,364.60L450.90,367.20L448.30,364.60Z" fill="#3d9c3d" stroke="#7fd67f" stroke-width="0.5"/>
<path d="M454.60,362.00L457.20,364.60L454.60,367.20L452.00,364.60Z" fill="#3d9c3d" stroke="#7fd67f" stroke-width="0.5"/>
<path d="M458.80,362.00L461.40,364.60L458.80,367.20L456.20,364.60Z" fill="#3d9c3d" stroke="#7fd67f" stroke-width="0.5"/>
<path d="M462.50,362.00L465.10,364.60L462.50,367.20L459.90,364.60Z" fill="#3d9c3d" stroke="#7fd67f" stroke-width="0.5"/>
<path d="M466.20,362.00L468.80,364.60L466.20,367.20L463.60,364.60Z" fill="#3d9c3d" stroke="#7fd67f" stroke-width="0.5"/>
<path d="M466.70,365.30L469.30,367.90L466.70,370.50L464.10,367.90Z" fill="#3d9c3d" stroke="#7fd67f" stroke-width="0.5"/>
<path d="M447.20,370.90L449.80,373.50L447.20,376.10L444.60,373.50Z" fill="#3d9c3d" stroke="#7fd67f" stroke-width="0.5"/>
<path d="M451.40,370.90L454.00,373.50L451.40,376.10L448.80,373.50Z" fill="#3d9c3d" stroke="#7fd67f" stroke-width="0.5"/>
<path d="M455.60,370.90L458.20,373.50L455.60,376.10L453.00,373.50Z" fill="#3d9c3d" stroke="#7fd67f" stroke-width="0.5"/>
<path d="M459.90,370.90L462.50,373.50L459.90,376.10L457.30,373.50Z" fill="#3d9c3d" stroke="#7fd67f" stroke-width="0.5"/>
<path d="M471.50,370.90L474.10,373.50L471.50,376.10L468.90,373.50Z" fill="#3d9c3d" stroke="#7fd67f" stroke-width="0.5"/>
<path d="M464.10,374.10L466.70,376.70L464.10,379.30L461.50,376.70Z" fill="#3d9c3d" stroke="#7fd67f" stroke-width="0.5"/>
<path d="M475.70,374.10L478.30,376.70L475.70,379.30L473.10,376.70Z" fill="#3d9c3d" stroke="#7fd67f" stroke-width="0.5"/>
<path d="M442.90,377.00L445.50,379.60L442.90,382.20L440.30,379.60Z" fill="#3d9c3d" stroke="#7fd67f" stroke-width="0.5"/>
<path d="M451.40,377.00L454.00,379.60L451.40,382.20L448.80,379.60Z" fill="#3d9c3d" stroke="#7fd67f" stroke-width="0.5"/>
<path d="M459.90,377.00L462.50,379.60L459.90,382.20L457.30,379.60Z" fill="#3d9c3d" stroke="#7fd67f" stroke-width="0.5"/>
<path d="M467.80,377.00L470.40,379.60L467.80,382.20L465.20,379.60Z" fill="#3d9c3d" stroke="#7fd67f" stroke-width="0.5"/>
<path d="M471.50,377.00L474.10,379.60L471.50,382.20L468.90,379.60Z" fill="#3d9c3d" stroke="#7fd67f" stroke-width="0.5"/>
<path d="M447.20,380.20L449.80,382.80L447.20,385.40L444.60,382.80Z" fill="#3d9c3d" stroke="#7fd67f" stroke-width="0.5"/>
<path d="M455.60,380.20L458.20,382.80L455.60,385.40L453.00,382.80Z" fill="#3d9c3d" stroke="#7fd67f" stroke-width="0.5"/>
<path d="M463.60,380.20L466.20,382.80L463.60,385.40L461.00,382.80Z" fill="#3d9c3d" stroke="#7fd67f" stroke-width="0.5"/>
<path d="M475.20,380.20L477.80,382.80L475.20,385.40L472.60,382.80Z" fill="#3d9c3d" stroke="#7fd67f" stroke-width="0.5"/>
<path d="M442.90,382.80L445.50,385.40L442.90,388.00L440.30,385.40Z" fill="#3d9c3d" stroke="#7fd67f" stroke-width="0.5"/>
<path d="M451.40,382.80L454.00,385.40L451.40,388.00L448.80,385.40Z" fill="#3d9c3d" stroke="#7fd67f" stroke-width="0.5"/>
<path d="M459.90,382.80L462.50,385.40L459.90,388.00L457.30,385.40Z" fill="#3d9c3d" stroke="#7fd67f" stroke-width="0.5"/>
<path d="M472.00,382.80L474.60,385.40L472.00,388.00L469.40,385.40Z" fill="#3d9c3d" stroke="#7fd67f" stroke-width="0.5"/>
<path d="M447.20,385.80L449.80,388.40L447.20,391.00L444.60,388.40Z" fill="#3d9c3d" stroke="#7fd67f" stroke-width="0.5"/>
<path d="M455.60,385.80L458.20,388.40L455.60,391.00L453.00,388.40Z" fill="#3d9c3d" stroke="#7fd67f" stroke-width="0.5"/>
<path d="M463.60,385.80L466.20,388.40L463.60,391.00L461.00,388.40Z" fill="#3d9c3d" stroke="#7fd67f" stroke-width="0.5"/>
<path d="M467.80,385.80L470.40,388.40L467.80,391.00L465.20,388.40Z" fill="#3d9c3d" stroke="#7fd67f" stroke-width="0.5"/>
<path d="M475.20,385.80L477.80,388.40L475.20,391.00L472.60,388.40Z" fill="#3d9c3d" stroke="#7fd67f" stroke-width="0.5"/>
<path d="M459.90,389.10L462.50,391.70L459.90,394.30L457.30,391.70Z" fill="#3d9c3d" stroke="#7fd67f" stroke-width="0.5"/>
<path d="M459.90,392.30L462.50,394.90L459.90,397.50L457.30,394.90Z" fill="#3d9c3d" stroke="#7fd67f" stroke-width="0.5"/>
<path d="M459.90,395.00L462.50,397.60L459.90,400.20L457.30,397.60Z" fill="#3d9c3d" stroke="#7fd67f" stroke-width="0.5"/>
<path d="M459.90,400.60L462.50,403.20L459.90,405.80L457.30,403.20Z" fill="#3d9c3d" stroke="#7fd67f" stroke-width="0.5"/>
<path d="M101.2,484.7 H395.4 M325.5,484.7 V492.7 M395.4,484.7 V493.4" fill="none" stroke="#333" stroke-width="1.2"/>
<path d="M101.2,507.2 H190.9 V515.2" fill="none" stroke="#333" stroke-width="1.2"/>
<path d="M101.2,524.9 H257.7 V532.5" fill="none" stroke="#333" stroke-width="1.2"/>
<path d="M257.6,507.2 H325.5 V515.2" fill="none" stroke="#333" stroke-width="1.2"/>
<text x="269.20" y="481.3" font-size="12.0" font-style="italic" textLength="9.6" lengthAdjust="spacingAndGlyphs">P</text>
<text x="279.40" y="481.0" font-size="12.0" textLength="10.6" lengthAdjust="spacingAndGlyphs">=</text>
<text x="292.30" y="481.3" font-size="12.0" textLength="33.6" lengthAdjust="spacingAndGlyphs">.0228</text>
<text x="340.30" y="481.3" font-size="12.0" font-style="italic" textLength="9.6" lengthAdjust="spacingAndGlyphs">P</text>
<text x="350.80" y="481.0" font-size="12.0" textLength="8.9" lengthAdjust="spacingAndGlyphs">&lt;</text>
<text x="360.90" y="481.3" font-size="12.0" textLength="33.6" lengthAdjust="spacingAndGlyphs">.0001</text>
<text x="133.10" y="503.5" font-size="12.0" font-style="italic" textLength="9.6" lengthAdjust="spacingAndGlyphs">P</text>
<text x="143.30" y="503.2" font-size="12.0" textLength="10.6" lengthAdjust="spacingAndGlyphs">=</text>
<text x="156.20" y="503.5" font-size="12.0" textLength="33.6" lengthAdjust="spacingAndGlyphs">.0064</text>
<text x="197.50" y="519.6" font-size="12.0" font-style="italic" textLength="9.6" lengthAdjust="spacingAndGlyphs">P</text>
<text x="207.70" y="519.3000000000001" font-size="12.0" textLength="10.6" lengthAdjust="spacingAndGlyphs">=</text>
<text x="220.60" y="519.6" font-size="12.0" textLength="33.6" lengthAdjust="spacingAndGlyphs">.0006</text>
<text x="267.60" y="503.6" font-size="12.0" font-style="italic" textLength="9.6" lengthAdjust="spacingAndGlyphs">P</text>
<text x="278.10" y="503.3" font-size="12.0" textLength="8.9" lengthAdjust="spacingAndGlyphs">&lt;</text>
<text x="288.20" y="503.6" font-size="12.0" textLength="33.6" lengthAdjust="spacingAndGlyphs">.0001</text>
<line x1="99.4" y1="678.5" x2="143.7" y2="678.5" stroke="#c7c6cb" stroke-width="1.6"/>
<line x1="121.2" y1="653.5" x2="121.2" y2="678.5" stroke="#111" stroke-width="1.8"/>
<line x1="110" y1="653.5" x2="132.4" y2="653.5" stroke="#111" stroke-width="2"/>
<rect x="99.3" y="687.4" width="44.30" height="119.00" fill="#c7c6cb"/>
<line x1="121.2" y1="806.4" x2="121.2" y2="817.8" stroke="#111" stroke-width="1.8"/>
<line x1="109.9" y1="817.8" x2="132.5" y2="817.8" stroke="#111" stroke-width="2"/>
<line x1="99.3" y1="749.2" x2="143.6" y2="749.2" stroke="#000" stroke-width="2.2"/>
<line x1="188.7" y1="676.2" x2="188.7" y2="678.5" stroke="#111" stroke-width="1.8"/>
<line x1="177.5" y1="676.2" x2="199.9" y2="676.2" stroke="#111" stroke-width="2"/>
<line x1="188.7" y1="687.2" x2="188.7" y2="777.3" stroke="#111" stroke-width="1.8"/>
<rect x="167.2" y="777.3" width="44.00" height="40.10" fill="#c7c6cb"/>
<line x1="167.2" y1="817.4" x2="211.2" y2="817.4" stroke="#000" stroke-width="2.2"/>
<line x1="256.6" y1="575.8" x2="256.6" y2="679.4" stroke="#111" stroke-width="1.8"/>
<line x1="245.3" y1="575.8" x2="267.9" y2="575.8" stroke="#111" stroke-width="2"/>
<rect x="234.4" y="583.2" width="44.40" height="62.80" fill="#c7c6cb"/>
<line x1="234.4" y1="604.0" x2="278.8" y2="604.0" stroke="#000" stroke-width="2.2"/>
<line x1="256.6" y1="687.4" x2="256.6" y2="817.5" stroke="#111" stroke-width="1.8"/>
<line x1="245.4" y1="817.5" x2="267.8" y2="817.5" stroke="#111" stroke-width="2"/>
<rect x="302.8" y="772.0" width="44.40" height="47.50" fill="#c7c6cb"/>
<line x1="325.0" y1="724.2" x2="325.0" y2="772.0" stroke="#111" stroke-width="1.8"/>
<line x1="313.7" y1="724.2" x2="336.3" y2="724.2" stroke="#111" stroke-width="2"/>
<line x1="302.8" y1="807.7" x2="347.2" y2="807.7" stroke="#000" stroke-width="2.2"/>
<rect x="370.0" y="553.1" width="45.00" height="45.70" fill="#c7c6cb"/>
<line x1="392.2" y1="537.3" x2="392.2" y2="553.1" stroke="#111" stroke-width="1.8"/>
<line x1="380.9" y1="537.3" x2="403.5" y2="537.3" stroke="#111" stroke-width="2"/>
<line x1="392.2" y1="598.8" x2="392.2" y2="675.0" stroke="#111" stroke-width="1.8"/>
<line x1="380.9" y1="675.0" x2="403.5" y2="675.0" stroke="#111" stroke-width="2"/>
<line x1="370.0" y1="567.0" x2="415.0" y2="567.0" stroke="#000" stroke-width="2.2"/>
<line x1="76.5" y1="531.2" x2="76.5" y2="678.5" stroke="#111" stroke-width="2"/>
<line x1="74.2" y1="678.5" x2="79.4" y2="678.5" stroke="#111" stroke-width="1.6"/>
<line x1="76.5" y1="687.5" x2="76.5" y2="831.4" stroke="#111" stroke-width="2"/>
<line x1="74.2" y1="687.5" x2="79.4" y2="687.5" stroke="#111" stroke-width="1.6"/>
<line x1="70.5" y1="830.4" x2="506" y2="830.4" stroke="#111" stroke-width="2"/>
<line x1="70.5" y1="678.5" x2="76.5" y2="678.5" stroke="#111" stroke-width="1.5"/>
<text transform="translate(64.0,683.10) scale(1.09,1)" font-size="12.0" text-anchor="end">10</text>
<line x1="73.8" y1="670.61" x2="76.5" y2="670.61" stroke="#111" stroke-width="1.1"/>
<line x1="70.5" y1="662.72" x2="76.5" y2="662.72" stroke="#111" stroke-width="1.5"/>
<text transform="translate(64.0,667.32) scale(1.09,1)" font-size="12.0" text-anchor="end">20</text>
<line x1="73.8" y1="654.83" x2="76.5" y2="654.83" stroke="#111" stroke-width="1.1"/>
<line x1="70.5" y1="646.94" x2="76.5" y2="646.94" stroke="#111" stroke-width="1.5"/>
<text transform="translate(64.0,651.54) scale(1.09,1)" font-size="12.0" text-anchor="end">30</text>
<line x1="73.8" y1="639.05" x2="76.5" y2="639.05" stroke="#111" stroke-width="1.1"/>
<line x1="70.5" y1="631.16" x2="76.5" y2="631.16" stroke="#111" stroke-width="1.5"/>
<text transform="translate(64.0,635.76) scale(1.09,1)" font-size="12.0" text-anchor="end">40</text>
<line x1="73.8" y1="623.27" x2="76.5" y2="623.27" stroke="#111" stroke-width="1.1"/>
<line x1="70.5" y1="615.38" x2="76.5" y2="615.38" stroke="#111" stroke-width="1.5"/>
<text transform="translate(64.0,619.98) scale(1.09,1)" font-size="12.0" text-anchor="end">50</text>
<line x1="73.8" y1="607.49" x2="76.5" y2="607.49" stroke="#111" stroke-width="1.1"/>
<line x1="70.5" y1="599.6" x2="76.5" y2="599.6" stroke="#111" stroke-width="1.5"/>
<text transform="translate(64.0,604.20) scale(1.09,1)" font-size="12.0" text-anchor="end">60</text>
<line x1="73.8" y1="591.71" x2="76.5" y2="591.71" stroke="#111" stroke-width="1.1"/>
<line x1="70.5" y1="583.8199999999999" x2="76.5" y2="583.8199999999999" stroke="#111" stroke-width="1.5"/>
<text transform="translate(64.0,588.42) scale(1.09,1)" font-size="12.0" text-anchor="end">70</text>
<line x1="73.8" y1="575.93" x2="76.5" y2="575.93" stroke="#111" stroke-width="1.1"/>
<line x1="70.5" y1="568.04" x2="76.5" y2="568.04" stroke="#111" stroke-width="1.5"/>
<text transform="translate(64.0,572.64) scale(1.09,1)" font-size="12.0" text-anchor="end">80</text>
<line x1="73.8" y1="560.15" x2="76.5" y2="560.15" stroke="#111" stroke-width="1.1"/>
<line x1="70.5" y1="552.26" x2="76.5" y2="552.26" stroke="#111" stroke-width="1.5"/>
<text transform="translate(64.0,556.86) scale(1.09,1)" font-size="12.0" text-anchor="end">90</text>
<line x1="73.8" y1="544.37" x2="76.5" y2="544.37" stroke="#111" stroke-width="1.1"/>
<line x1="70.5" y1="536.48" x2="76.5" y2="536.48" stroke="#111" stroke-width="1.5"/>
<text transform="translate(64.0,541.08) scale(1.09,1)" font-size="12.0" text-anchor="end">100</text>
<line x1="70.5" y1="830.4" x2="76.5" y2="830.4" stroke="#111" stroke-width="1.5"/>
<text transform="translate(64.0,835.00) scale(1.09,1)" font-size="12.0" text-anchor="end">0</text>
<line x1="73.8" y1="823.255" x2="76.5" y2="823.255" stroke="#111" stroke-width="1.1"/>
<line x1="70.5" y1="816.11" x2="76.5" y2="816.11" stroke="#111" stroke-width="1.5"/>
<text transform="translate(64.0,820.71) scale(1.09,1)" font-size="12.0" text-anchor="end">1</text>
<line x1="73.8" y1="808.965" x2="76.5" y2="808.965" stroke="#111" stroke-width="1.1"/>
<line x1="70.5" y1="801.8199999999999" x2="76.5" y2="801.8199999999999" stroke="#111" stroke-width="1.5"/>
<text transform="translate(64.0,806.42) scale(1.09,1)" font-size="12.0" text-anchor="end">2</text>
<line x1="73.8" y1="794.675" x2="76.5" y2="794.675" stroke="#111" stroke-width="1.1"/>
<line x1="70.5" y1="787.53" x2="76.5" y2="787.53" stroke="#111" stroke-width="1.5"/>
<text transform="translate(64.0,792.13) scale(1.09,1)" font-size="12.0" text-anchor="end">3</text>
<line x1="73.8" y1="780.385" x2="76.5" y2="780.385" stroke="#111" stroke-width="1.1"/>
<line x1="70.5" y1="773.24" x2="76.5" y2="773.24" stroke="#111" stroke-width="1.5"/>
<text transform="translate(64.0,777.84) scale(1.09,1)" font-size="12.0" text-anchor="end">4</text>
<line x1="73.8" y1="766.095" x2="76.5" y2="766.095" stroke="#111" stroke-width="1.1"/>
<line x1="70.5" y1="758.95" x2="76.5" y2="758.95" stroke="#111" stroke-width="1.5"/>
<text transform="translate(64.0,763.55) scale(1.09,1)" font-size="12.0" text-anchor="end">5</text>
<line x1="73.8" y1="751.805" x2="76.5" y2="751.805" stroke="#111" stroke-width="1.1"/>
<line x1="70.5" y1="744.66" x2="76.5" y2="744.66" stroke="#111" stroke-width="1.5"/>
<text transform="translate(64.0,749.26) scale(1.09,1)" font-size="12.0" text-anchor="end">6</text>
<line x1="73.8" y1="737.515" x2="76.5" y2="737.515" stroke="#111" stroke-width="1.1"/>
<line x1="70.5" y1="730.37" x2="76.5" y2="730.37" stroke="#111" stroke-width="1.5"/>
<text transform="translate(64.0,734.97) scale(1.09,1)" font-size="12.0" text-anchor="end">7</text>
<line x1="73.8" y1="723.225" x2="76.5" y2="723.225" stroke="#111" stroke-width="1.1"/>
<line x1="70.5" y1="716.0799999999999" x2="76.5" y2="716.0799999999999" stroke="#111" stroke-width="1.5"/>
<text transform="translate(64.0,720.68) scale(1.09,1)" font-size="12.0" text-anchor="end">8</text>
<line x1="73.8" y1="708.935" x2="76.5" y2="708.935" stroke="#111" stroke-width="1.1"/>
<line x1="70.5" y1="701.79" x2="76.5" y2="701.79" stroke="#111" stroke-width="1.5"/>
<text transform="translate(64.0,706.39) scale(1.09,1)" font-size="12.0" text-anchor="end">9</text>
<line x1="73.8" y1="694.645" x2="76.5" y2="694.645" stroke="#111" stroke-width="1.1"/>
<line x1="70.5" y1="687.5" x2="76.5" y2="687.5" stroke="#111" stroke-width="1.5"/>
<text transform="translate(64.0,692.10) scale(1.09,1)" font-size="12.0" text-anchor="end">10</text>
<line x1="121.2" y1="830.4" x2="121.2" y2="836.2" stroke="#111" stroke-width="1.6"/>
<line x1="188.7" y1="830.4" x2="188.7" y2="836.2" stroke="#111" stroke-width="1.6"/>
<line x1="256.6" y1="830.4" x2="256.6" y2="836.2" stroke="#111" stroke-width="1.6"/>
<line x1="324.7" y1="830.4" x2="324.7" y2="836.2" stroke="#111" stroke-width="1.6"/>
<line x1="392.6" y1="830.4" x2="392.6" y2="836.2" stroke="#111" stroke-width="1.6"/>
<line x1="460.1" y1="830.4" x2="460.1" y2="836.2" stroke="#111" stroke-width="1.6"/>
<line x1="288.5" y1="537.4" x2="288.5" y2="679.4" stroke="#111" stroke-width="1.8"/>
<line x1="288.5" y1="687.4" x2="288.5" y2="830.4" stroke="#111" stroke-width="1.8"/>
<text transform="translate(31.3,681.0) rotate(-90)" x="-61.50" y="0" font-size="16.8" stroke="#111" stroke-width="0.45" textLength="123.0" lengthAdjust="spacingAndGlyphs">ADAMTS13 activity [%]</text>
<circle cx="121.2" cy="653.5" r="2.45" fill="#aa0e37"/>
<circle cx="121.2" cy="663" r="2.45" fill="#aa0e37"/>
<circle cx="121.2" cy="671.3" r="2.45" fill="#aa0e37"/>
<circle cx="116.3" cy="678.5" r="2.45" fill="#aa0e37"/>
<circle cx="126.3" cy="678.5" r="2.45" fill="#aa0e37"/>
<circle cx="121.2" cy="713.8" r="2.45" fill="#17436b"/>
<circle cx="111.6" cy="746.5" r="2.45" fill="#aa0e37"/>
<circle cx="131" cy="752" r="2.45" fill="#aa0e37"/>
<circle cx="121.2" cy="754.8" r="2.45" fill="#aa0e37"/>
<circle cx="121.2" cy="760.5" r="2.45" fill="#aa0e37"/>
<circle cx="121.2" cy="803" r="2.45" fill="#aa0e37"/>
<circle cx="111.9" cy="817.7" r="2.45" fill="#aa0e37"/>
<circle cx="121.2" cy="817.7" r="2.45" fill="#aa0e37"/>
<circle cx="131" cy="817.7" r="2.45" fill="#aa0e37"/>
<circle cx="188.7" cy="676.2" r="2.45" fill="#aa0e37"/>
<circle cx="188.7" cy="749" r="2.45" fill="#17436b"/>
<circle cx="188.7" cy="761.7" r="2.45" fill="#aa0e37"/>
<circle cx="188.7" cy="770.6" r="2.45" fill="#aa0e37"/>
<circle cx="188.7" cy="793.3" r="2.45" fill="#17436b"/>
<circle cx="190.5" cy="807.3" r="2.45" fill="#17436b"/>
<circle cx="187.6" cy="812.3" r="2.45" fill="#aa0e37"/>
<circle cx="166.6" cy="817.4" r="2.45" fill="#aa0e37"/>
<circle cx="172.2" cy="817.4" r="2.45" fill="#aa0e37"/>
<circle cx="177.7" cy="817.4" r="2.45" fill="#aa0e37"/>
<circle cx="183.5" cy="817.4" r="2.45" fill="#aa0e37"/>
<circle cx="189" cy="817.4" r="2.45" fill="#17436b"/>
<circle cx="194.6" cy="817.4" r="2.45" fill="#aa0e37"/>
<circle cx="200.1" cy="817.4" r="2.45" fill="#aa0e37"/>
<circle cx="205.6" cy="817.4" r="2.45" fill="#aa0e37"/>
<circle cx="211.3" cy="817.4" r="2.45" fill="#aa0e37"/>
<circle cx="256.6" cy="537.8" r="2.45" fill="#17436b"/>
<circle cx="247" cy="575.8" r="2.45" fill="#17436b"/>
<circle cx="256.6" cy="575.8" r="2.45" fill="#17436b"/>
<circle cx="267.2" cy="577.8" r="2.45" fill="#17436b"/>
<circle cx="256.6" cy="581.3" r="2.45" fill="#17436b"/>
<circle cx="249.8" cy="586" r="2.45" fill="#17436b"/>
<circle cx="256.6" cy="588.4" r="2.45" fill="#aa0e37"/>
<circle cx="263" cy="592" r="2.45" fill="#17436b"/>
<circle cx="256.6" cy="594.3" r="2.45" fill="#aa0e37"/>
<circle cx="261.5" cy="597.8" r="2.45" fill="#17436b"/>
<circle cx="266.5" cy="600" r="2.45" fill="#aa0e37"/>
<circle cx="249.8" cy="602.6" r="2.45" fill="#17436b"/>
<circle cx="256.6" cy="604.2" r="2.45" fill="#aa0e37"/>
<circle cx="247" cy="609.5" r="2.45" fill="#aa0e37"/>
<circle cx="266.5" cy="608.3" r="2.45" fill="#aa0e37"/>
<circle cx="256.6" cy="623.8" r="2.45" fill="#17436b"/>
<circle cx="256.6" cy="653.8" r="2.45" fill="#aa0e37"/>
<circle cx="256.6" cy="790.2" r="2.45" fill="#aa0e37"/>
<circle cx="256.6" cy="796" r="2.45" fill="#aa0e37"/>
<circle cx="256.6" cy="817.5" r="2.45" fill="#aa0e37"/>
<path d="M325.00,722.00L327.50,726.62L322.50,726.62Z" fill="#aa0e37"/>
<path d="M325.00,746.50L327.50,751.12L322.50,751.12Z" fill="#aa0e37"/>
<path d="M325.00,760.10L327.50,764.73L322.50,764.73Z" fill="#aa0e37"/>
<path d="M325.00,779.50L327.50,784.12L322.50,784.12Z" fill="#aa0e37"/>
<path d="M325.00,787.00L327.50,791.62L322.50,791.62Z" fill="#aa0e37"/>
<path d="M321.00,805.50L323.50,810.12L318.50,810.12Z" fill="#aa0e37"/>
<path d="M328.50,802.50L331.00,807.12L326.00,807.12Z" fill="#aa0e37"/>
<path d="M304.10,815.70L306.60,820.33L301.60,820.33Z" fill="#aa0e37"/>
<path d="M312.20,814.00L314.70,818.62L309.70,818.62Z" fill="#aa0e37"/>
<path d="M320.30,815.70L322.80,820.33L317.80,820.33Z" fill="#aa0e37"/>
<path d="M328.40,815.70L330.90,820.33L325.90,820.33Z" fill="#aa0e37"/>
<path d="M336.40,815.70L338.90,820.33L333.90,820.33Z" fill="#aa0e37"/>
<path d="M344.50,815.70L347.00,820.33L342.00,820.33Z" fill="#aa0e37"/>
<path d="M368.30,535.00L370.80,539.62L365.80,539.62Z" fill="#17436b"/>
<path d="M375.30,535.00L377.80,539.62L372.80,539.62Z" fill="#17436b"/>
<path d="M382.80,535.00L385.30,539.62L380.30,539.62Z" fill="#aa0e37"/>
<path d="M388.50,535.00L391.00,539.62L386.00,539.62Z" fill="#17436b"/>
<path d="M395.40,535.00L397.90,539.62L392.90,539.62Z" fill="#aa0e37"/>
<path d="M401.80,535.00L404.30,539.62L399.30,539.62Z" fill="#17436b"/>
<path d="M408.70,535.00L411.20,539.62L406.20,539.62Z" fill="#17436b"/>
<path d="M414.50,535.00L417.00,539.62L412.00,539.62Z" fill="#17436b"/>
<path d="M401.80,538.50L404.30,543.12L399.30,543.12Z" fill="#17436b"/>
<path d="M384.50,543.10L387.00,547.73L382.00,547.73Z" fill="#17436b"/>
<path d="M392.20,541.90L394.70,546.52L389.70,546.52Z" fill="#17436b"/>
<path d="M370.70,548.80L373.20,553.42L368.20,553.42Z" fill="#17436b"/>
<path d="M377.60,548.80L380.10,553.42L375.10,553.42Z" fill="#17436b"/>
<path d="M392.60,548.80L395.10,553.42L390.10,553.42Z" fill="#17436b"/>
<path d="M399.50,548.80L402.00,553.42L397.00,553.42Z" fill="#17436b"/>
<path d="M406.40,548.80L408.90,553.42L403.90,553.42Z" fill="#17436b"/>
<path d="M413.30,551.10L415.80,555.73L410.80,555.73Z" fill="#17436b"/>
<path d="M382.20,551.10L384.70,555.73L379.70,555.73Z" fill="#17436b"/>
<path d="M387.10,552.00L389.60,556.62L384.60,556.62Z" fill="#aa0e37"/>
<path d="M396.60,552.30L399.10,556.92L394.10,556.92Z" fill="#aa0e37"/>
<path d="M401.80,553.50L404.30,558.12L399.30,558.12Z" fill="#17436b"/>
<path d="M378.70,555.20L381.20,559.83L376.20,559.83Z" fill="#17436b"/>
<path d="M392.20,555.20L394.70,559.83L389.70,559.83Z" fill="#17436b"/>
<path d="M405.80,556.90L408.30,561.52L403.30,561.52Z" fill="#17436b"/>
<path d="M386.20,558.10L388.70,562.73L383.70,562.73Z" fill="#17436b"/>
<path d="M392.20,558.10L394.70,562.73L389.70,562.73Z" fill="#aa0e37"/>
<path d="M397.20,561.50L399.70,566.12L394.70,566.12Z" fill="#17436b"/>
<path d="M375.80,564.60L378.30,569.23L373.30,569.23Z" fill="#17436b"/>
<path d="M382.20,564.60L384.70,569.23L379.70,569.23Z" fill="#aa0e37"/>
<path d="M392.20,564.60L394.70,569.23L389.70,569.23Z" fill="#aa0e37"/>
<path d="M401.80,564.60L404.30,569.23L399.30,569.23Z" fill="#aa0e37"/>
<path d="M407.60,564.60L410.10,569.23L405.10,569.23Z" fill="#17436b"/>
<path d="M382.20,569.00L384.70,573.62L379.70,573.62Z" fill="#aa0e37"/>
<path d="M386.80,567.30L389.30,571.92L384.30,571.92Z" fill="#17436b"/>
<path d="M392.60,570.20L395.10,574.83L390.10,574.83Z" fill="#17436b"/>
<path d="M411.00,567.90L413.50,572.52L408.50,572.52Z" fill="#17436b"/>
<path d="M401.80,573.10L404.30,577.73L399.30,577.73Z" fill="#aa0e37"/>
<path d="M392.20,574.80L394.70,579.42L389.70,579.42Z" fill="#aa0e37"/>
<path d="M392.20,576.30L394.70,580.92L389.70,580.92Z" fill="#aa0e37"/>
<path d="M392.20,580.60L394.70,585.23L389.70,585.23Z" fill="#aa0e37"/>
<path d="M382.20,586.30L384.70,590.92L379.70,590.92Z" fill="#aa0e37"/>
<path d="M392.20,586.30L394.70,590.92L389.70,590.92Z" fill="#aa0e37"/>
<path d="M401.80,586.30L404.30,590.92L399.30,590.92Z" fill="#aa0e37"/>
<path d="M392.20,595.40L394.70,600.02L389.70,600.02Z" fill="#aa0e37"/>
<path d="M387.50,603.50L390.00,608.12L385.00,608.12Z" fill="#aa0e37"/>
<path d="M397.50,601.00L400.00,605.62L395.00,605.62Z" fill="#aa0e37"/>
<path d="M392.20,607.00L394.70,611.62L389.70,611.62Z" fill="#17436b"/>
<path d="M382.20,608.50L384.70,613.12L379.70,613.12Z" fill="#aa0e37"/>
<path d="M401.50,611.00L404.00,615.62L399.00,615.62Z" fill="#aa0e37"/>
<path d="M392.20,616.00L394.70,620.62L389.70,620.62Z" fill="#aa0e37"/>
<path d="M392.20,625.50L394.70,630.12L389.70,630.12Z" fill="#aa0e37"/>
<path d="M401.50,635.00L404.00,639.62L399.00,639.62Z" fill="#aa0e37"/>
<path d="M382.20,642.00L384.70,646.62L379.70,646.62Z" fill="#aa0e37"/>
<path d="M392.20,640.00L394.70,644.62L389.70,644.62Z" fill="#aa0e37"/>
<path d="M401.50,643.00L404.00,647.62L399.00,647.62Z" fill="#aa0e37"/>
<path d="M392.20,653.50L394.70,658.12L389.70,658.12Z" fill="#aa0e37"/>
<path d="M392.20,672.50L394.70,677.12L389.70,677.12Z" fill="#aa0e37"/>
<path d="M101.6,881.5 H462.7 M390.6,881.5 V891.2 M462.7,881.5 V891.2" fill="none" stroke="#333" stroke-width="1.2"/>
<path d="M236.8,901.8 H321.4 V911.7" fill="none" stroke="#333" stroke-width="1.2"/>
<path d="M99.4,922.5 H255.5 V932.5" fill="none" stroke="#333" stroke-width="1.2"/>
<path d="M167.5,928.2 H462.7 V937.9" fill="none" stroke="#333" stroke-width="1.2"/>
<text x="330.50" y="878.9" font-size="12.0" font-style="italic" textLength="9.6" lengthAdjust="spacingAndGlyphs">P</text>
<text x="340.70" y="878.6" font-size="12.0" textLength="10.6" lengthAdjust="spacingAndGlyphs">=</text>
<text x="353.60" y="878.9" font-size="12.0" textLength="33.6" lengthAdjust="spacingAndGlyphs">.0197</text>
<text x="405.90" y="878.9" font-size="12.0" font-style="italic" textLength="9.6" lengthAdjust="spacingAndGlyphs">P</text>
<text x="416.10" y="878.6" font-size="12.0" textLength="10.6" lengthAdjust="spacingAndGlyphs">=</text>
<text x="429.00" y="878.9" font-size="12.0" textLength="33.6" lengthAdjust="spacingAndGlyphs">.0070</text>
<text x="263.10" y="898.6" font-size="12.0" font-style="italic" textLength="9.6" lengthAdjust="spacingAndGlyphs">P</text>
<text x="273.30" y="898.3000000000001" font-size="12.0" textLength="10.6" lengthAdjust="spacingAndGlyphs">=</text>
<text x="286.20" y="898.6" font-size="12.0" textLength="33.6" lengthAdjust="spacingAndGlyphs">.0002</text>
<text x="197.70" y="918.1" font-size="12.0" font-style="italic" textLength="9.6" lengthAdjust="spacingAndGlyphs">P</text>
<text x="207.90" y="917.8000000000001" font-size="12.0" textLength="10.6" lengthAdjust="spacingAndGlyphs">=</text>
<text x="220.80" y="918.1" font-size="12.0" textLength="33.6" lengthAdjust="spacingAndGlyphs">.0006</text>
<text x="405.40" y="924.8" font-size="12.0" font-style="italic" textLength="9.6" lengthAdjust="spacingAndGlyphs">P</text>
<text x="415.60" y="924.5" font-size="12.0" textLength="10.6" lengthAdjust="spacingAndGlyphs">=</text>
<text x="428.50" y="924.8" font-size="12.0" textLength="33.6" lengthAdjust="spacingAndGlyphs">.0062</text>
<rect x="99.2" y="1047.0" width="44.00" height="70.50" fill="#c7c6cb"/>
<line x1="121.2" y1="1032.0" x2="121.2" y2="1047.0" stroke="#111" stroke-width="1.8"/>
<line x1="109.9" y1="1032.0" x2="132.5" y2="1032.0" stroke="#111" stroke-width="2"/>
<line x1="121.2" y1="1117.5" x2="121.2" y2="1163.8" stroke="#111" stroke-width="1.8"/>
<line x1="109.9" y1="1163.8" x2="132.5" y2="1163.8" stroke="#111" stroke-width="2"/>
<line x1="99.2" y1="1072.5" x2="143.2" y2="1072.5" stroke="#000" stroke-width="2.2"/>
<rect x="166.7" y="1045.5" width="44.00" height="85.70" fill="#c7c6cb"/>
<line x1="188.7" y1="1019.5" x2="188.7" y2="1045.5" stroke="#111" stroke-width="1.8"/>
<line x1="177.39999999999998" y1="1019.5" x2="200.0" y2="1019.5" stroke="#111" stroke-width="2"/>
<line x1="188.7" y1="1131.2" x2="188.7" y2="1174.5" stroke="#111" stroke-width="1.8"/>
<line x1="177.39999999999998" y1="1174.5" x2="200.0" y2="1174.5" stroke="#111" stroke-width="2"/>
<line x1="166.7" y1="1055.3" x2="210.7" y2="1055.3" stroke="#000" stroke-width="2.2"/>
<line x1="256.2" y1="939.5" x2="256.2" y2="994.5" stroke="#111" stroke-width="1.8"/>
<line x1="245" y1="939.5" x2="267.4" y2="939.5" stroke="#111" stroke-width="2"/>
<line x1="256.2" y1="1003.0" x2="256.2" y2="1016.2" stroke="#111" stroke-width="1.8"/>
<rect x="234.2" y="1016.2" width="44.10" height="47.60" fill="#c7c6cb"/>
<line x1="256.2" y1="1063.8" x2="256.2" y2="1175.4" stroke="#111" stroke-width="1.8"/>
<line x1="244.89999999999998" y1="1175.4" x2="267.5" y2="1175.4" stroke="#111" stroke-width="2"/>
<line x1="234.2" y1="1043.0" x2="278.3" y2="1043.0" stroke="#000" stroke-width="2.2"/>
<rect x="301.4" y="1073.0" width="44.50" height="68.20" fill="#c7c6cb"/>
<line x1="323.6" y1="1064.2" x2="323.6" y2="1073.0" stroke="#111" stroke-width="1.8"/>
<line x1="312.3" y1="1064.2" x2="334.90000000000003" y2="1064.2" stroke="#111" stroke-width="2"/>
<line x1="323.6" y1="1141.2" x2="323.6" y2="1147.5" stroke="#111" stroke-width="1.8"/>
<line x1="312.3" y1="1147.5" x2="334.90000000000003" y2="1147.5" stroke="#111" stroke-width="2"/>
<line x1="301.4" y1="1121.0" x2="345.9" y2="1121.0" stroke="#000" stroke-width="2.2"/>
<rect x="369.2" y="1075.0" width="44.00" height="66.70" fill="#c7c6cb"/>
<line x1="391.2" y1="1040.1" x2="391.2" y2="1075.0" stroke="#111" stroke-width="1.8"/>
<line x1="379.9" y1="1040.1" x2="402.5" y2="1040.1" stroke="#111" stroke-width="2"/>
<line x1="391.2" y1="1141.7" x2="391.2" y2="1187.9" stroke="#111" stroke-width="1.8"/>
<line x1="379.9" y1="1187.9" x2="402.5" y2="1187.9" stroke="#111" stroke-width="2"/>
<line x1="369.2" y1="1127.6" x2="413.2" y2="1127.6" stroke="#000" stroke-width="2.2"/>
<rect x="436.5" y="1101.5" width="44.30" height="49.00" fill="#c7c6cb"/>
<line x1="458.8" y1="1007.4" x2="458.8" y2="1101.5" stroke="#111" stroke-width="1.8"/>
<line x1="447.5" y1="1007.4" x2="470.1" y2="1007.4" stroke="#111" stroke-width="2"/>
<line x1="458.8" y1="1150.5" x2="458.8" y2="1182.6" stroke="#111" stroke-width="1.8"/>
<line x1="447.5" y1="1182.6" x2="470.1" y2="1182.6" stroke="#111" stroke-width="2"/>
<line x1="436.5" y1="1127.7" x2="480.8" y2="1127.7" stroke="#000" stroke-width="2.2"/>
<line x1="76.2" y1="930.8" x2="76.2" y2="994.4" stroke="#111" stroke-width="2"/>
<line x1="73.4" y1="994.4" x2="79.2" y2="994.4" stroke="#111" stroke-width="1.6"/>
<line x1="76.2" y1="1003.4" x2="76.2" y2="1230.4" stroke="#111" stroke-width="2"/>
<line x1="73.4" y1="1003.4" x2="79.2" y2="1003.4" stroke="#111" stroke-width="1.6"/>
<line x1="70.5" y1="1229.5" x2="506" y2="1229.5" stroke="#111" stroke-width="2"/>
<line x1="70.3" y1="944.09" x2="76.2" y2="944.09" stroke="#111" stroke-width="1.5"/>
<line x1="70.3" y1="960.86" x2="76.2" y2="960.86" stroke="#111" stroke-width="1.5"/>
<line x1="70.3" y1="977.63" x2="76.2" y2="977.63" stroke="#111" stroke-width="1.5"/>
<line x1="73.4" y1="952.475" x2="76.2" y2="952.475" stroke="#111" stroke-width="1.1"/>
<line x1="73.4" y1="969.245" x2="76.2" y2="969.245" stroke="#111" stroke-width="1.1"/>
<line x1="73.4" y1="986.015" x2="76.2" y2="986.015" stroke="#111" stroke-width="1.1"/>
<text transform="translate(64.0,948.69) scale(1.09,1)" font-size="12.0" text-anchor="end">630</text>
<text transform="translate(64.0,965.46) scale(1.09,1)" font-size="12.0" text-anchor="end">530</text>
<text transform="translate(64.0,982.23) scale(1.09,1)" font-size="12.0" text-anchor="end">430</text>
<text transform="translate(64.0,999.00) scale(1.09,1)" font-size="12.0" text-anchor="end">330</text>
<line x1="70.4" y1="1229.4" x2="76.2" y2="1229.4" stroke="#111" stroke-width="1.5"/>
<text transform="translate(64.0,1234.00) scale(1.09,1)" font-size="12.0" text-anchor="end">0</text>
<line x1="73.4" y1="1213.25" x2="76.2" y2="1213.25" stroke="#111" stroke-width="1.1"/>
<line x1="70.4" y1="1197.1000000000001" x2="76.2" y2="1197.1000000000001" stroke="#111" stroke-width="1.5"/>
<text transform="translate(64.0,1201.70) scale(1.09,1)" font-size="12.0" text-anchor="end">40</text>
<line x1="73.4" y1="1180.95" x2="76.2" y2="1180.95" stroke="#111" stroke-width="1.1"/>
<line x1="70.4" y1="1164.8000000000002" x2="76.2" y2="1164.8000000000002" stroke="#111" stroke-width="1.5"/>
<text transform="translate(64.0,1169.40) scale(1.09,1)" font-size="12.0" text-anchor="end">80</text>
<line x1="73.4" y1="1148.65" x2="76.2" y2="1148.65" stroke="#111" stroke-width="1.1"/>
<line x1="70.4" y1="1132.5" x2="76.2" y2="1132.5" stroke="#111" stroke-width="1.5"/>
<text transform="translate(64.0,1137.10) scale(1.09,1)" font-size="12.0" text-anchor="end">120</text>
<line x1="73.4" y1="1116.3500000000001" x2="76.2" y2="1116.3500000000001" stroke="#111" stroke-width="1.1"/>
<line x1="70.4" y1="1100.2" x2="76.2" y2="1100.2" stroke="#111" stroke-width="1.5"/>
<text transform="translate(64.0,1104.80) scale(1.09,1)" font-size="12.0" text-anchor="end">160</text>
<line x1="73.4" y1="1084.0500000000002" x2="76.2" y2="1084.0500000000002" stroke="#111" stroke-width="1.1"/>
<line x1="70.4" y1="1067.9" x2="76.2" y2="1067.9" stroke="#111" stroke-width="1.5"/>
<text transform="translate(64.0,1072.50) scale(1.09,1)" font-size="12.0" text-anchor="end">200</text>
<line x1="73.4" y1="1051.75" x2="76.2" y2="1051.75" stroke="#111" stroke-width="1.1"/>
<line x1="70.4" y1="1035.6000000000001" x2="76.2" y2="1035.6000000000001" stroke="#111" stroke-width="1.5"/>
<text transform="translate(64.0,1040.20) scale(1.09,1)" font-size="12.0" text-anchor="end">240</text>
<line x1="73.4" y1="1019.45" x2="76.2" y2="1019.45" stroke="#111" stroke-width="1.1"/>
<line x1="70.4" y1="1003.3000000000001" x2="76.2" y2="1003.3000000000001" stroke="#111" stroke-width="1.5"/>
<text transform="translate(64.0,1007.90) scale(1.09,1)" font-size="12.0" text-anchor="end">280</text>
<line x1="121.2" y1="1229.5" x2="121.2" y2="1236" stroke="#111" stroke-width="1.6"/>
<line x1="188.7" y1="1229.5" x2="188.7" y2="1236" stroke="#111" stroke-width="1.6"/>
<line x1="256.2" y1="1229.5" x2="256.2" y2="1236" stroke="#111" stroke-width="1.6"/>
<line x1="323.1" y1="1229.5" x2="323.1" y2="1236" stroke="#111" stroke-width="1.6"/>
<line x1="391.0" y1="1229.5" x2="391.0" y2="1236" stroke="#111" stroke-width="1.6"/>
<line x1="458.8" y1="1229.5" x2="458.8" y2="1236" stroke="#111" stroke-width="1.6"/>
<line x1="288.6" y1="937.0" x2="288.6" y2="1229.5" stroke="#111" stroke-width="1.8"/>
<line x1="425.3" y1="937.0" x2="425.3" y2="1229.5" stroke="#111" stroke-width="1.8"/>
<text transform="translate(30.8,1081.0) rotate(-90)" x="-45.00" y="0" font-size="16.8" stroke="#111" stroke-width="0.45" textLength="90.0" lengthAdjust="spacingAndGlyphs">VWF antigen [%]</text>
<circle cx="121.2" cy="1032" r="2.45" fill="#aa0e37"/>
<circle cx="116.2" cy="1042" r="2.45" fill="#aa0e37"/>
<circle cx="126.2" cy="1042" r="2.45" fill="#aa0e37"/>
<circle cx="121.2" cy="1047.5" r="2.45" fill="#aa0e37"/>
<circle cx="120" cy="1055.5" r="2.45" fill="#17436b"/>
<circle cx="116.2" cy="1063" r="2.45" fill="#aa0e37"/>
<circle cx="126.2" cy="1066.5" r="2.45" fill="#aa0e37"/>
<circle cx="121.2" cy="1078" r="2.45" fill="#aa0e37"/>
<circle cx="116.2" cy="1109.5" r="2.45" fill="#aa0e37"/>
<circle cx="126.2" cy="1109" r="2.45" fill="#aa0e37"/>
<circle cx="121.2" cy="1117" r="2.45" fill="#aa0e37"/>
<circle cx="121.2" cy="1122.5" r="2.45" fill="#aa0e37"/>
<circle cx="121.2" cy="1133" r="2.45" fill="#aa0e37"/>
<circle cx="121.2" cy="1163.8" r="2.45" fill="#aa0e37"/>
<circle cx="188.7" cy="1019.5" r="2.45" fill="#aa0e37"/>
<circle cx="184" cy="1034" r="2.45" fill="#aa0e37"/>
<circle cx="194" cy="1033" r="2.45" fill="#aa0e37"/>
<circle cx="181" cy="1046" r="2.45" fill="#aa0e37"/>
<circle cx="188.7" cy="1045.5" r="2.45" fill="#17436b"/>
<circle cx="193.5" cy="1043.5" r="2.45" fill="#aa0e37"/>
<circle cx="198.3" cy="1047" r="2.45" fill="#aa0e37"/>
<circle cx="184" cy="1057" r="2.45" fill="#aa0e37"/>
<circle cx="194" cy="1055.5" r="2.45" fill="#aa0e37"/>
<circle cx="200" cy="1055.5" r="2.45" fill="#17436b"/>
<circle cx="188.7" cy="1087" r="2.45" fill="#aa0e37"/>
<circle cx="188.7" cy="1099.5" r="2.45" fill="#17436b"/>
<circle cx="188.7" cy="1144" r="2.45" fill="#17436b"/>
<circle cx="188.7" cy="1150" r="2.45" fill="#aa0e37"/>
<circle cx="188.7" cy="1166" r="2.45" fill="#aa0e37"/>
<circle cx="188.7" cy="1174.5" r="2.45" fill="#aa0e37"/>
<circle cx="258" cy="938.5" r="2.45" fill="#17436b"/>
<circle cx="254" cy="942.5" r="2.45" fill="#aa0e37"/>
<circle cx="256.2" cy="967" r="2.45" fill="#17436b"/>
<circle cx="256.2" cy="986" r="2.45" fill="#aa0e37"/>
<circle cx="256.2" cy="1009.8" r="2.45" fill="#aa0e37"/>
<circle cx="256.2" cy="1030" r="2.45" fill="#aa0e37"/>
<circle cx="246.5" cy="1038.5" r="2.45" fill="#17436b"/>
<circle cx="253" cy="1039.5" r="2.45" fill="#aa0e37"/>
<circle cx="259" cy="1040.5" r="2.45" fill="#17436b"/>
<circle cx="266" cy="1038.5" r="2.45" fill="#17436b"/>
<circle cx="252" cy="1045" r="2.45" fill="#17436b"/>
<circle cx="261" cy="1046.5" r="2.45" fill="#17436b"/>
<circle cx="256.2" cy="1052" r="2.45" fill="#aa0e37"/>
<circle cx="256.2" cy="1058.5" r="2.45" fill="#aa0e37"/>
<circle cx="251.5" cy="1064.5" r="2.45" fill="#aa0e37"/>
<circle cx="261.2" cy="1065" r="2.45" fill="#aa0e37"/>
<circle cx="251.8" cy="1112" r="2.45" fill="#17436b"/>
<circle cx="261.5" cy="1113" r="2.45" fill="#17436b"/>
<circle cx="256.2" cy="1130" r="2.45" fill="#17436b"/>
<circle cx="256.2" cy="1175.5" r="2.45" fill="#aa0e37"/>
<path d="M323.60,1026.30L326.10,1030.92L321.10,1030.92Z" fill="#aa0e37"/>
<path d="M323.60,1062.00L326.10,1066.62L321.10,1066.62Z" fill="#aa0e37"/>
<path d="M309.50,1070.50L312.00,1075.12L307.00,1075.12Z" fill="#aa0e37"/>
<path d="M319.00,1071.50L321.50,1076.12L316.50,1076.12Z" fill="#aa0e37"/>
<path d="M328.50,1071.50L331.00,1076.12L326.00,1076.12Z" fill="#aa0e37"/>
<path d="M338.30,1069.00L340.80,1073.62L335.80,1073.62Z" fill="#aa0e37"/>
<path d="M323.60,1091.50L326.10,1096.12L321.10,1096.12Z" fill="#aa0e37"/>
<path d="M323.60,1118.50L326.10,1123.12L321.10,1123.12Z" fill="#aa0e37"/>
<path d="M319.00,1137.00L321.50,1141.62L316.50,1141.62Z" fill="#aa0e37"/>
<path d="M328.50,1137.00L331.00,1141.62L326.00,1141.62Z" fill="#aa0e37"/>
<path d="M313.80,1145.00L316.30,1149.62L311.30,1149.62Z" fill="#aa0e37"/>
<path d="M323.60,1144.50L326.10,1149.12L321.10,1149.12Z" fill="#aa0e37"/>
<path d="M333.40,1145.00L335.90,1149.62L330.90,1149.62Z" fill="#aa0e37"/>
<path d="M390.80,1038.30L393.30,1042.92L388.30,1042.92Z" fill="#aa0e37"/>
<path d="M382.80,1050.40L385.30,1055.03L380.30,1055.03Z" fill="#aa0e37"/>
<path d="M389.70,1050.40L392.20,1055.03L387.20,1055.03Z" fill="#17436b"/>
<path d="M395.40,1050.40L397.90,1055.03L392.90,1055.03Z" fill="#aa0e37"/>
<path d="M396.00,1054.60L398.50,1059.22L393.50,1059.22Z" fill="#17436b"/>
<path d="M376.80,1059.60L379.30,1064.22L374.30,1064.22Z" fill="#17436b"/>
<path d="M386.80,1059.00L389.30,1063.62L384.30,1063.62Z" fill="#17436b"/>
<path d="M405.80,1057.30L408.30,1061.92L403.30,1061.92Z" fill="#17436b"/>
<path d="M382.20,1062.70L384.70,1067.33L379.70,1067.33Z" fill="#aa0e37"/>
<path d="M396.00,1061.10L398.50,1065.72L393.50,1065.72Z" fill="#17436b"/>
<path d="M400.60,1064.80L403.10,1069.42L398.10,1069.42Z" fill="#aa0e37"/>
<path d="M380.50,1071.70L383.00,1076.33L378.00,1076.33Z" fill="#17436b"/>
<path d="M375.80,1074.60L378.30,1079.22L373.30,1079.22Z" fill="#aa0e37"/>
<path d="M385.60,1073.10L388.10,1077.72L383.10,1077.72Z" fill="#aa0e37"/>
<path d="M390.80,1073.10L393.30,1077.72L388.30,1077.72Z" fill="#17436b"/>
<path d="M396.60,1072.30L399.10,1076.92L394.10,1076.92Z" fill="#aa0e37"/>
<path d="M401.40,1073.50L403.90,1078.12L398.90,1078.12Z" fill="#17436b"/>
<path d="M405.80,1070.60L408.30,1075.22L403.30,1075.22Z" fill="#aa0e37"/>
<path d="M405.60,1076.30L408.10,1080.92L403.10,1080.92Z" fill="#aa0e37"/>
<path d="M391.00,1078.10L393.50,1082.72L388.50,1082.72Z" fill="#17436b"/>
<path d="M386.60,1094.80L389.10,1099.42L384.10,1099.42Z" fill="#17436b"/>
<path d="M396.10,1091.80L398.60,1096.42L393.60,1096.42Z" fill="#17436b"/>
<path d="M387.60,1105.30L390.10,1109.92L385.10,1109.92Z" fill="#aa0e37"/>
<path d="M395.70,1104.20L398.20,1108.83L393.20,1108.83Z" fill="#aa0e37"/>
<path d="M386.60,1110.70L389.10,1115.33L384.10,1115.33Z" fill="#17436b"/>
<path d="M396.10,1108.90L398.60,1113.53L393.60,1113.53Z" fill="#17436b"/>
<path d="M383.10,1125.10L385.60,1129.72L380.60,1129.72Z" fill="#aa0e37"/>
<path d="M389.30,1125.10L391.80,1129.72L386.80,1129.72Z" fill="#17436b"/>
<path d="M399.00,1125.10L401.50,1129.72L396.50,1129.72Z" fill="#aa0e37"/>
<path d="M377.20,1128.50L379.70,1133.12L374.70,1133.12Z" fill="#17436b"/>
<path d="M393.60,1127.80L396.10,1132.42L391.10,1132.42Z" fill="#aa0e37"/>
<path d="M405.80,1131.10L408.30,1135.72L403.30,1135.72Z" fill="#17436b"/>
<path d="M371.40,1135.80L373.90,1140.42L368.90,1140.42Z" fill="#aa0e37"/>
<path d="M377.20,1135.80L379.70,1140.42L374.70,1140.42Z" fill="#17436b"/>
<path d="M389.90,1137.20L392.40,1141.83L387.40,1141.83Z" fill="#17436b"/>
<path d="M411.40,1135.20L413.90,1139.83L408.90,1139.83Z" fill="#aa0e37"/>
<path d="M406.00,1136.50L408.50,1141.12L403.50,1141.12Z" fill="#17436b"/>
<path d="M371.40,1141.90L373.90,1146.53L368.90,1146.53Z" fill="#aa0e37"/>
<path d="M377.20,1141.20L379.70,1145.83L374.70,1145.83Z" fill="#aa0e37"/>
<path d="M383.10,1142.60L385.60,1147.22L380.60,1147.22Z" fill="#aa0e37"/>
<path d="M389.90,1143.50L392.40,1148.12L387.40,1148.12Z" fill="#17436b"/>
<path d="M395.30,1139.90L397.80,1144.53L392.80,1144.53Z" fill="#aa0e37"/>
<path d="M401.00,1139.20L403.50,1143.83L398.50,1143.83Z" fill="#aa0e37"/>
<path d="M411.40,1141.20L413.90,1145.83L408.90,1145.83Z" fill="#aa0e37"/>
<path d="M379.50,1146.60L382.00,1151.22L377.00,1151.22Z" fill="#17436b"/>
<path d="M401.50,1146.60L404.00,1151.22L399.00,1151.22Z" fill="#17436b"/>
<path d="M387.60,1152.00L390.10,1156.62L385.10,1156.62Z" fill="#aa0e37"/>
<path d="M395.30,1149.30L397.80,1153.92L392.80,1153.92Z" fill="#aa0e37"/>
<path d="M396.10,1155.40L398.60,1160.03L393.60,1160.03Z" fill="#17436b"/>
<path d="M384.00,1159.40L386.50,1164.03L381.50,1164.03Z" fill="#17436b"/>
<path d="M388.30,1163.70L390.80,1168.33L385.80,1168.33Z" fill="#aa0e37"/>
<path d="M395.30,1161.40L397.80,1166.03L392.80,1166.03Z" fill="#aa0e37"/>
<path d="M391.20,1172.20L393.70,1176.83L388.70,1176.83Z" fill="#17436b"/>
<path d="M391.20,1185.40L393.70,1190.03L388.70,1190.03Z" fill="#17436b"/>
<path d="M458.80,1004.80L461.40,1007.40L458.80,1010.00L456.20,1007.40Z" fill="#3d9c3d" stroke="#7fd67f" stroke-width="0.5"/>
<path d="M458.80,1017.80L461.40,1020.40L458.80,1023.00L456.20,1020.40Z" fill="#3d9c3d" stroke="#7fd67f" stroke-width="0.5"/>
<path d="M455.10,1033.00L457.70,1035.60L455.10,1038.20L452.50,1035.60Z" fill="#3d9c3d" stroke="#7fd67f" stroke-width="0.5"/>
<path d="M463.00,1037.20L465.60,1039.80L463.00,1042.40L460.40,1039.80Z" fill="#3d9c3d" stroke="#7fd67f" stroke-width="0.5"/>
<path d="M455.10,1040.60L457.70,1043.20L455.10,1045.80L452.50,1043.20Z" fill="#3d9c3d" stroke="#7fd67f" stroke-width="0.5"/>
<path d="M463.00,1043.20L465.60,1045.80L463.00,1048.40L460.40,1045.80Z" fill="#3d9c3d" stroke="#7fd67f" stroke-width="0.5"/>
<path d="M447.00,1054.10L449.60,1056.70L447.00,1059.30L444.40,1056.70Z" fill="#3d9c3d" stroke="#7fd67f" stroke-width="0.5"/>
<path d="M455.10,1053.00L457.70,1055.60L455.10,1058.20L452.50,1055.60Z" fill="#3d9c3d" stroke="#7fd67f" stroke-width="0.5"/>
<path d="M463.00,1051.10L465.60,1053.70L463.00,1056.30L460.40,1053.70Z" fill="#3d9c3d" stroke="#7fd67f" stroke-width="0.5"/>
<path d="M471.00,1052.50L473.60,1055.10L471.00,1057.70L468.40,1055.10Z" fill="#3d9c3d" stroke="#7fd67f" stroke-width="0.5"/>
<path d="M455.10,1060.40L457.70,1063.00L455.10,1065.60L452.50,1063.00Z" fill="#3d9c3d" stroke="#7fd67f" stroke-width="0.5"/>
<path d="M455.10,1066.00L457.70,1068.60L455.10,1071.20L452.50,1068.60Z" fill="#3d9c3d" stroke="#7fd67f" stroke-width="0.5"/>
<path d="M463.00,1063.40L465.60,1066.00L463.00,1068.60L460.40,1066.00Z" fill="#3d9c3d" stroke="#7fd67f" stroke-width="0.5"/>
<path d="M458.80,1089.60L461.40,1092.20L458.80,1094.80L456.20,1092.20Z" fill="#3d9c3d" stroke="#7fd67f" stroke-width="0.5"/>
<path d="M447.00,1096.40L449.60,1099.00L447.00,1101.60L444.40,1099.00Z" fill="#3d9c3d" stroke="#7fd67f" stroke-width="0.5"/>
<path d="M455.10,1095.50L457.70,1098.10L455.10,1100.70L452.50,1098.10Z" fill="#3d9c3d" stroke="#7fd67f" stroke-width="0.5"/>
<path d="M463.00,1099.80L465.60,1102.40L463.00,1105.00L460.40,1102.40Z" fill="#3d9c3d" stroke="#7fd67f" stroke-width="0.5"/>
<path d="M471.00,1099.80L473.60,1102.40L471.00,1105.00L468.40,1102.40Z" fill="#3d9c3d" stroke="#7fd67f" stroke-width="0.5"/>
<path d="M455.10,1103.10L457.70,1105.70L455.10,1108.30L452.50,1105.70Z" fill="#3d9c3d" stroke="#7fd67f" stroke-width="0.5"/>
<path d="M479.10,1102.30L481.70,1104.90L479.10,1107.50L476.50,1104.90Z" fill="#3d9c3d" stroke="#7fd67f" stroke-width="0.5"/>
<path d="M463.00,1105.70L465.60,1108.30L463.00,1110.90L460.40,1108.30Z" fill="#3d9c3d" stroke="#7fd67f" stroke-width="0.5"/>
<path d="M471.00,1104.80L473.60,1107.40L471.00,1110.00L468.40,1107.40Z" fill="#3d9c3d" stroke="#7fd67f" stroke-width="0.5"/>
<path d="M455.10,1108.70L457.70,1111.30L455.10,1113.90L452.50,1111.30Z" fill="#3d9c3d" stroke="#7fd67f" stroke-width="0.5"/>
<path d="M438.90,1115.50L441.50,1118.10L438.90,1120.70L436.30,1118.10Z" fill="#3d9c3d" stroke="#7fd67f" stroke-width="0.5"/>
<path d="M447.00,1115.50L449.60,1118.10L447.00,1120.70L444.40,1118.10Z" fill="#3d9c3d" stroke="#7fd67f" stroke-width="0.5"/>
<path d="M455.10,1118.90L457.70,1121.50L455.10,1124.10L452.50,1121.50Z" fill="#3d9c3d" stroke="#7fd67f" stroke-width="0.5"/>
<path d="M463.00,1118.40L465.60,1121.00L463.00,1123.60L460.40,1121.00Z" fill="#3d9c3d" stroke="#7fd67f" stroke-width="0.5"/>
<path d="M479.10,1118.90L481.70,1121.50L479.10,1124.10L476.50,1121.50Z" fill="#3d9c3d" stroke="#7fd67f" stroke-width="0.5"/>
<path d="M438.90,1122.20L441.50,1124.80L438.90,1127.40L436.30,1124.80Z" fill="#3d9c3d" stroke="#7fd67f" stroke-width="0.5"/>
<path d="M447.00,1121.70L449.60,1124.30L447.00,1126.90L444.40,1124.30Z" fill="#3d9c3d" stroke="#7fd67f" stroke-width="0.5"/>
<path d="M458.80,1125.10L461.40,1127.70L458.80,1130.30L456.20,1127.70Z" fill="#3d9c3d" stroke="#7fd67f" stroke-width="0.5"/>
<path d="M471.00,1122.20L473.60,1124.80L471.00,1127.40L468.40,1124.80Z" fill="#3d9c3d" stroke="#7fd67f" stroke-width="0.5"/>
<path d="M479.10,1124.60L481.70,1127.20L479.10,1129.80L476.50,1127.20Z" fill="#3d9c3d" stroke="#7fd67f" stroke-width="0.5"/>
<path d="M438.90,1127.70L441.50,1130.30L438.90,1132.90L436.30,1130.30Z" fill="#3d9c3d" stroke="#7fd67f" stroke-width="0.5"/>
<path d="M455.10,1126.30L457.70,1128.90L455.10,1131.50L452.50,1128.90Z" fill="#3d9c3d" stroke="#7fd67f" stroke-width="0.5"/>
<path d="M463.00,1130.20L465.60,1132.80L463.00,1135.40L460.40,1132.80Z" fill="#3d9c3d" stroke="#7fd67f" stroke-width="0.5"/>
<path d="M471.00,1127.70L473.60,1130.30L471.00,1132.90L468.40,1130.30Z" fill="#3d9c3d" stroke="#7fd67f" stroke-width="0.5"/>
<path d="M479.10,1131.00L481.70,1133.60L479.10,1136.20L476.50,1133.60Z" fill="#3d9c3d" stroke="#7fd67f" stroke-width="0.5"/>
<path d="M447.00,1131.90L449.60,1134.50L447.00,1137.10L444.40,1134.50Z" fill="#3d9c3d" stroke="#7fd67f" stroke-width="0.5"/>
<path d="M455.10,1134.40L457.70,1137.00L455.10,1139.60L452.50,1137.00Z" fill="#3d9c3d" stroke="#7fd67f" stroke-width="0.5"/>
<path d="M471.00,1135.30L473.60,1137.90L471.00,1140.50L468.40,1137.90Z" fill="#3d9c3d" stroke="#7fd67f" stroke-width="0.5"/>
<path d="M447.00,1138.60L449.60,1141.20L447.00,1143.80L444.40,1141.20Z" fill="#3d9c3d" stroke="#7fd67f" stroke-width="0.5"/>
<path d="M455.10,1140.30L457.70,1142.90L455.10,1145.50L452.50,1142.90Z" fill="#3d9c3d" stroke="#7fd67f" stroke-width="0.5"/>
<path d="M479.10,1141.50L481.70,1144.10L479.10,1146.70L476.50,1144.10Z" fill="#3d9c3d" stroke="#7fd67f" stroke-width="0.5"/>
<path d="M447.00,1143.70L449.60,1146.30L447.00,1148.90L444.40,1146.30Z" fill="#3d9c3d" stroke="#7fd67f" stroke-width="0.5"/>
<path d="M438.90,1145.90L441.50,1148.50L438.90,1151.10L436.30,1148.50Z" fill="#3d9c3d" stroke="#7fd67f" stroke-width="0.5"/>
<path d="M479.10,1147.10L481.70,1149.70L479.10,1152.30L476.50,1149.70Z" fill="#3d9c3d" stroke="#7fd67f" stroke-width="0.5"/>
<path d="M447.00,1149.60L449.60,1152.20L447.00,1154.80L444.40,1152.20Z" fill="#3d9c3d" stroke="#7fd67f" stroke-width="0.5"/>
<path d="M455.10,1150.50L457.70,1153.10L455.10,1155.70L452.50,1153.10Z" fill="#3d9c3d" stroke="#7fd67f" stroke-width="0.5"/>
<path d="M463.00,1150.50L465.60,1153.10L463.00,1155.70L460.40,1153.10Z" fill="#3d9c3d" stroke="#7fd67f" stroke-width="0.5"/>
<path d="M471.00,1151.00L473.60,1153.60L471.00,1156.20L468.40,1153.60Z" fill="#3d9c3d" stroke="#7fd67f" stroke-width="0.5"/>
<path d="M447.00,1154.70L449.60,1157.30L447.00,1159.90L444.40,1157.30Z" fill="#3d9c3d" stroke="#7fd67f" stroke-width="0.5"/>
<path d="M455.10,1157.20L457.70,1159.80L455.10,1162.40L452.50,1159.80Z" fill="#3d9c3d" stroke="#7fd67f" stroke-width="0.5"/>
<path d="M463.00,1156.90L465.60,1159.50L463.00,1162.10L460.40,1159.50Z" fill="#3d9c3d" stroke="#7fd67f" stroke-width="0.5"/>
<path d="M471.00,1156.40L473.60,1159.00L471.00,1161.60L468.40,1159.00Z" fill="#3d9c3d" stroke="#7fd67f" stroke-width="0.5"/>
<path d="M447.00,1159.80L449.60,1162.40L447.00,1165.00L444.40,1162.40Z" fill="#3d9c3d" stroke="#7fd67f" stroke-width="0.5"/>
<path d="M455.10,1163.50L457.70,1166.10L455.10,1168.70L452.50,1166.10Z" fill="#3d9c3d" stroke="#7fd67f" stroke-width="0.5"/>
<path d="M471.00,1162.80L473.60,1165.40L471.00,1168.00L468.40,1165.40Z" fill="#3d9c3d" stroke="#7fd67f" stroke-width="0.5"/>
<path d="M447.00,1164.80L449.60,1167.40L447.00,1170.00L444.40,1167.40Z" fill="#3d9c3d" stroke="#7fd67f" stroke-width="0.5"/>
<path d="M447.00,1171.90L449.60,1174.50L447.00,1177.10L444.40,1174.50Z" fill="#3d9c3d" stroke="#7fd67f" stroke-width="0.5"/>
<path d="M463.00,1171.20L465.60,1173.80L463.00,1176.40L460.40,1173.80Z" fill="#3d9c3d" stroke="#7fd67f" stroke-width="0.5"/>
<path d="M471.00,1175.80L473.60,1178.40L471.00,1181.00L468.40,1178.40Z" fill="#3d9c3d" stroke="#7fd67f" stroke-width="0.5"/>
<path d="M463.00,1177.50L465.60,1180.10L463.00,1182.70L460.40,1180.10Z" fill="#3d9c3d" stroke="#7fd67f" stroke-width="0.5"/>
<path d="M447.00,1179.70L449.60,1182.30L447.00,1184.90L444.40,1182.30Z" fill="#3d9c3d" stroke="#7fd67f" stroke-width="0.5"/>
<text x="121.5" y="1253.6" font-size="12.3" text-anchor="middle" >Before</text>
<text x="121.5" y="1268.8" font-size="12.3" text-anchor="middle" >acute</text>
<text x="121.5" y="1284.0" font-size="12.3" text-anchor="middle" >bout</text>
<text x="188.7" y="1253.6" font-size="12.3" text-anchor="middle" >Beginning</text>
<text x="188.7" y="1268.8" font-size="12.3" text-anchor="middle" >of acute</text>
<text x="188.7" y="1284.0" font-size="12.3" text-anchor="middle" >bout</text>
<text x="256.3" y="1253.6" font-size="12.3" text-anchor="middle" >After</text>
<text x="256.3" y="1268.8" font-size="12.3" text-anchor="middle" >acute</text>
<text x="256.3" y="1284.0" font-size="12.3" text-anchor="middle" >bout</text>
<text x="323.4" y="1254.0" font-size="12.3" text-anchor="middle" textLength="35.2" lengthAdjust="spacingAndGlyphs">&lt;10%</text>
<text x="390.9" y="1254.0" font-size="12.3" text-anchor="middle" textLength="35.2" lengthAdjust="spacingAndGlyphs">≥10%</text>
<text x="358.9" y="1268.6" font-size="12.3" text-anchor="middle" >ADAMTS13 activity</text>
<text x="358.9" y="1283.8" font-size="12.3" text-anchor="middle" >in remission</text>
<text x="458.6" y="1253.8" font-size="12.3" text-anchor="middle" textLength="47.4" lengthAdjust="spacingAndGlyphs">Controls</text>
</svg></body></html>
